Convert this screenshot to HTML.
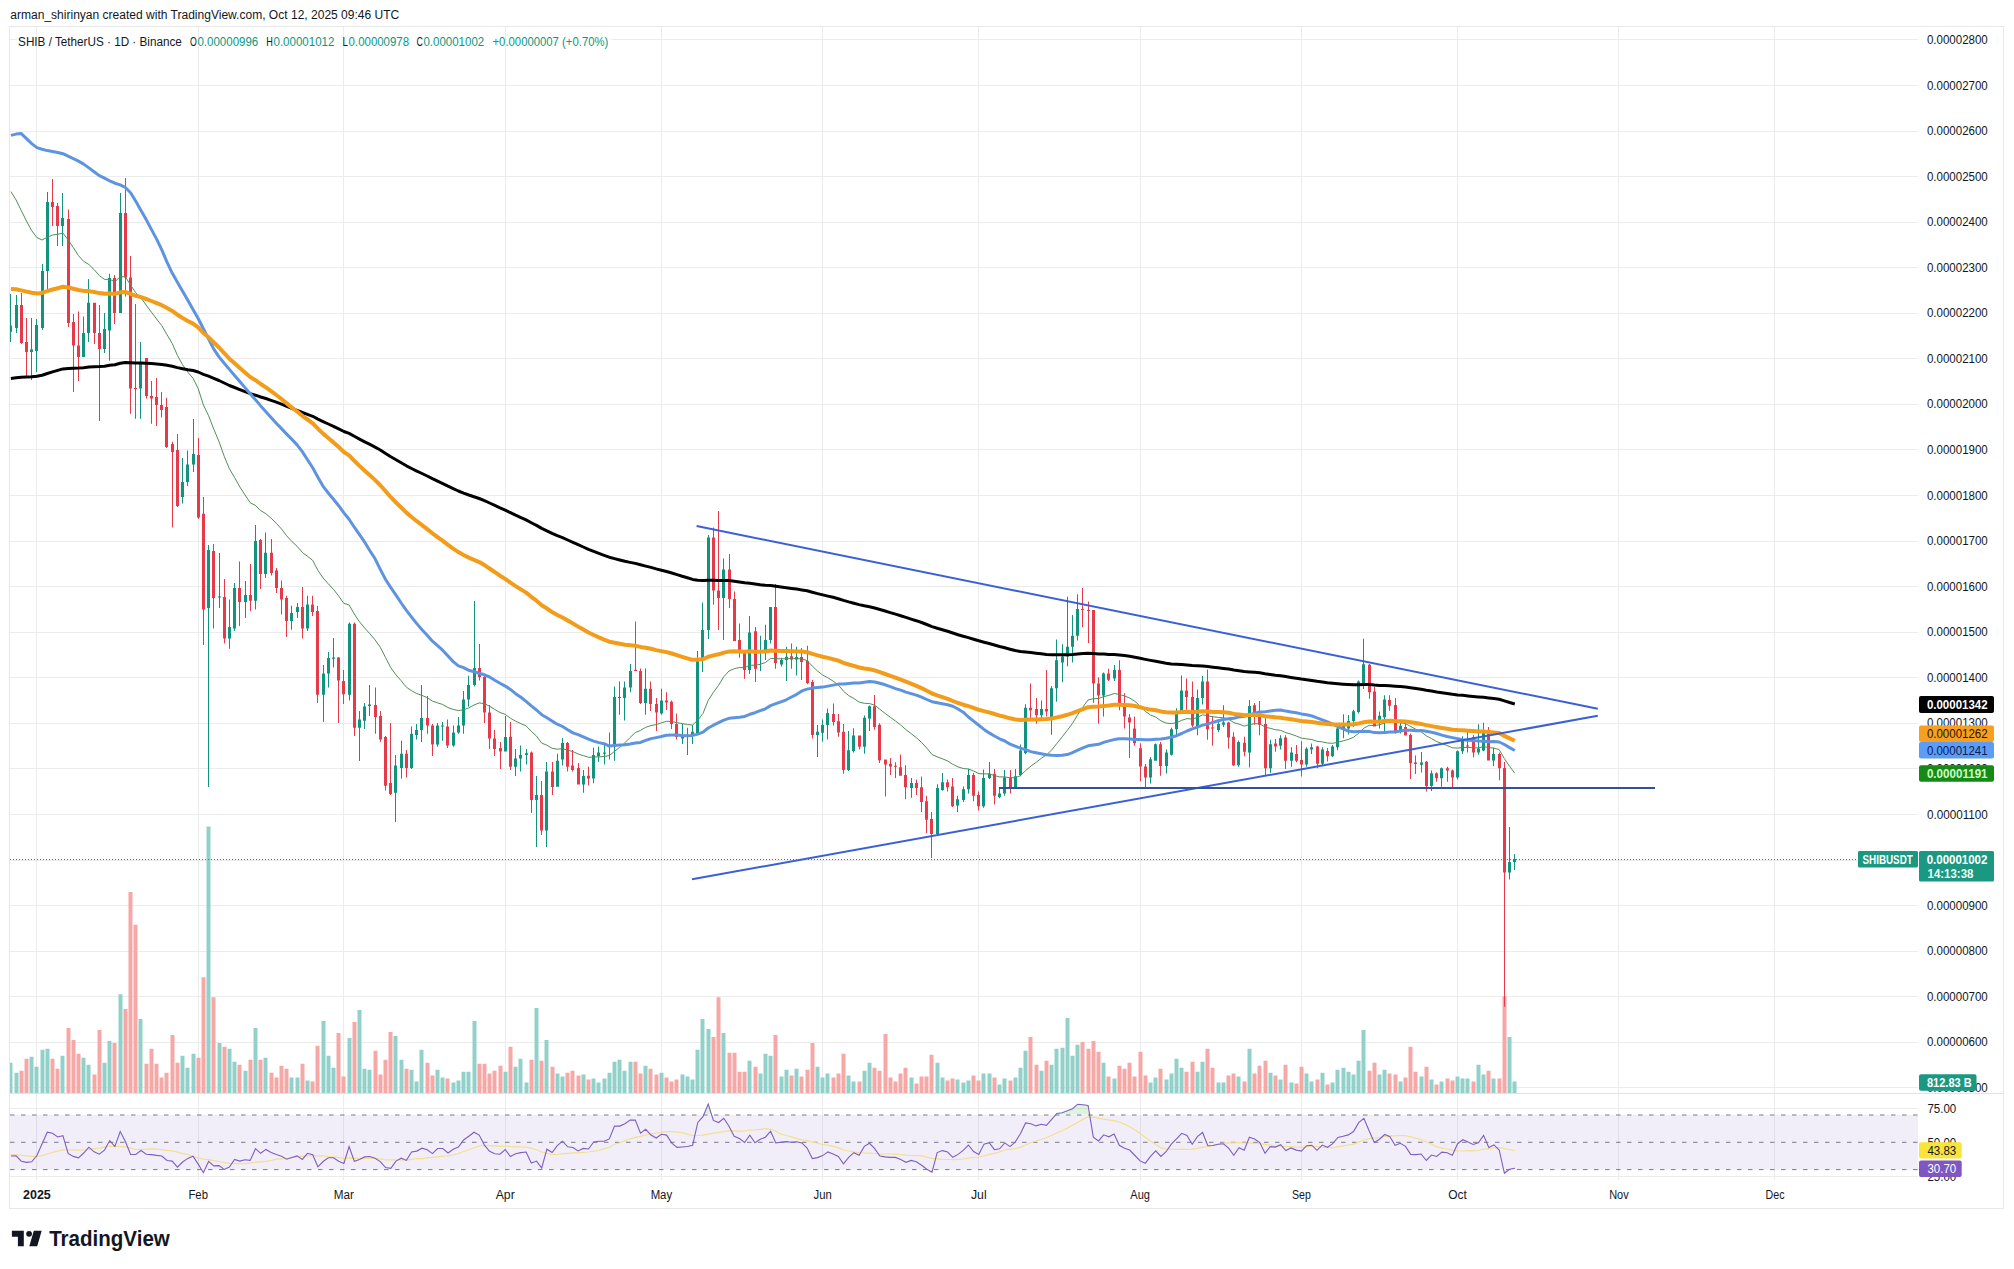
<!DOCTYPE html>
<html><head><meta charset="utf-8"><style>
html,body{margin:0;padding:0;background:#fff;}
body{width:2014px;height:1269px;overflow:hidden;position:relative;font-family:"Liberation Sans",sans-serif;}
svg{position:absolute;left:0;top:0;}
text{font-family:"Liberation Sans",sans-serif;}
</style></head><body>
<svg width="2014" height="1269" viewBox="0 0 2014 1269">
<rect width="2014" height="1269" fill="#ffffff"/>
<defs><clipPath id="cp"><rect x="10" y="27" width="1908" height="1066"/></clipPath><clipPath id="cr"><rect x="10" y="1094" width="1908" height="86"/></clipPath></defs>

<text x="10.3" y="19" font-size="12.5" fill="#131722" textLength="389" lengthAdjust="spacingAndGlyphs">arman_shirinyan created with TradingView.com, Oct 12, 2025 09:46 UTC</text>
<rect x="9.5" y="26.5" width="1994" height="1182" fill="none" stroke="#e8e8e8" stroke-width="1"/>
<path d="M10,1087.5 H1918 M10,1042.5 H1918 M10,996.5 H1918 M10,951.5 H1918 M10,905.5 H1918 M10,860.5 H1918 M10,814.5 H1918 M10,768.5 H1918 M10,723.5 H1918 M10,677.5 H1918 M10,632.5 H1918 M10,586.5 H1918 M10,541.5 H1918 M10,495.5 H1918 M10,449.5 H1918 M10,404.5 H1918 M10,358.5 H1918 M10,313.5 H1918 M10,267.5 H1918 M10,222.5 H1918 M10,176.5 H1918 M10,131.5 H1918 M10,85.5 H1918 M10,39.5 H17 M611,39.5 H1918 M36.5,27 V1180 M198.5,27 V1180 M343.5,27 V1180 M505.5,27 V1180 M661.5,27 V1180 M822.5,27 V1180 M978.5,27 V1180 M1140.5,27 V1180 M1301.5,27 V1180 M1457.5,27 V1180 M1618.5,27 V1180 M1774.5,27 V1180 M10,1108.5 H1918 M10,1176.5 H1918" stroke="#ececec" stroke-width="1" fill="none"/>
<path d="M10,1093.5 H2004" stroke="#e3e3e3" stroke-width="1"/>
<rect x="10" y="1115.0" width="1908" height="54.7" fill="#7e57c2" fill-opacity="0.1"/>
<path d="M10,1115.0 H1918 M10,1142.3 H1918 M10,1169.6 H1918" stroke="#787b86" stroke-width="1" stroke-dasharray="4.5,6.5" fill="none"/>
<g clip-path="url(#cp)">
<path d="M8.5,1093 V1062.7 H12.5 V1093 Z M14.5,1093 V1072.7 H18.5 V1093 Z M29.5,1093 V1056.8 H33.5 V1093 Z M34.5,1093 V1066.7 H38.5 V1093 Z M40.5,1093 V1049.8 H44.5 V1093 Z M45.5,1093 V1048.8 H49.5 V1093 Z M60.5,1093 V1055.8 H64.5 V1093 Z M81.5,1093 V1057.8 H85.5 V1093 Z M86.5,1093 V1064.7 H90.5 V1093 Z M102.5,1093 V1062.7 H106.5 V1093 Z M107.5,1093 V1040.9 H111.5 V1093 Z M118.5,1093 V994.2 H122.5 V1093 Z M138.5,1093 V1019.0 H142.5 V1093 Z M180.5,1093 V1055.8 H184.5 V1093 Z M185.5,1093 V1067.7 H189.5 V1093 Z M191.5,1093 V1053.8 H195.5 V1093 Z M206.5,1093 V826.4 H210.5 V1093 Z M217.5,1093 V1042.9 H221.5 V1093 Z M227.5,1093 V1048.8 H231.5 V1093 Z M232.5,1093 V1061.7 H236.5 V1093 Z M243.5,1093 V1070.7 H247.5 V1093 Z M253.5,1093 V1028.0 H257.5 V1093 Z M263.5,1093 V1057.8 H267.5 V1093 Z M289.5,1093 V1077.6 H293.5 V1093 Z M295.5,1093 V1077.6 H299.5 V1093 Z M305.5,1093 V1080.6 H309.5 V1093 Z M321.5,1093 V1021.0 H325.5 V1093 Z M326.5,1093 V1055.8 H330.5 V1093 Z M331.5,1093 V1067.7 H335.5 V1093 Z M347.5,1093 V1037.9 H351.5 V1093 Z M357.5,1093 V1010.1 H361.5 V1093 Z M362.5,1093 V1068.7 H366.5 V1093 Z M367.5,1093 V1069.7 H371.5 V1093 Z M393.5,1093 V1035.9 H397.5 V1093 Z M399.5,1093 V1059.7 H403.5 V1093 Z M409.5,1093 V1069.7 H413.5 V1093 Z M414.5,1093 V1081.6 H418.5 V1093 Z M419.5,1093 V1049.8 H423.5 V1093 Z M435.5,1093 V1069.7 H439.5 V1093 Z M440.5,1093 V1077.6 H444.5 V1093 Z M451.5,1093 V1082.6 H455.5 V1093 Z M456.5,1093 V1080.6 H460.5 V1093 Z M461.5,1093 V1071.7 H465.5 V1093 Z M466.5,1093 V1071.7 H470.5 V1093 Z M472.5,1093 V1021.0 H476.5 V1093 Z M503.5,1093 V1071.7 H507.5 V1093 Z M513.5,1093 V1066.7 H517.5 V1093 Z M518.5,1093 V1058.7 H522.5 V1093 Z M524.5,1093 V1082.6 H528.5 V1093 Z M534.5,1093 V1008.1 H538.5 V1093 Z M544.5,1093 V1039.9 H548.5 V1093 Z M555.5,1093 V1073.6 H559.5 V1093 Z M560.5,1093 V1076.6 H564.5 V1093 Z M581.5,1093 V1074.6 H585.5 V1093 Z M591.5,1093 V1078.6 H595.5 V1093 Z M596.5,1093 V1082.6 H600.5 V1093 Z M602.5,1093 V1078.6 H606.5 V1093 Z M607.5,1093 V1072.7 H611.5 V1093 Z M612.5,1093 V1061.7 H616.5 V1093 Z M617.5,1093 V1059.7 H621.5 V1093 Z M622.5,1093 V1070.7 H626.5 V1093 Z M628.5,1093 V1061.7 H632.5 V1093 Z M643.5,1093 V1065.7 H647.5 V1093 Z M659.5,1093 V1072.7 H663.5 V1093 Z M680.5,1093 V1074.6 H684.5 V1093 Z M685.5,1093 V1076.6 H689.5 V1093 Z M690.5,1093 V1079.6 H694.5 V1093 Z M695.5,1093 V1049.8 H699.5 V1093 Z M700.5,1093 V1019.0 H704.5 V1093 Z M706.5,1093 V1029.0 H710.5 V1093 Z M721.5,1093 V1032.9 H725.5 V1093 Z M747.5,1093 V1060.7 H751.5 V1093 Z M758.5,1093 V1073.6 H762.5 V1093 Z M763.5,1093 V1053.8 H767.5 V1093 Z M768.5,1093 V1055.8 H772.5 V1093 Z M779.5,1093 V1076.6 H783.5 V1093 Z M784.5,1093 V1069.7 H788.5 V1093 Z M794.5,1093 V1068.7 H798.5 V1093 Z M815.5,1093 V1066.7 H819.5 V1093 Z M820.5,1093 V1077.6 H824.5 V1093 Z M825.5,1093 V1073.6 H829.5 V1093 Z M846.5,1093 V1075.6 H850.5 V1093 Z M851.5,1093 V1081.6 H855.5 V1093 Z M862.5,1093 V1070.7 H866.5 V1093 Z M867.5,1093 V1062.7 H871.5 V1093 Z M909.5,1093 V1077.6 H913.5 V1093 Z M935.5,1093 V1062.7 H939.5 V1093 Z M940.5,1093 V1077.6 H944.5 V1093 Z M955.5,1093 V1079.6 H959.5 V1093 Z M961.5,1093 V1082.6 H965.5 V1093 Z M966.5,1093 V1080.6 H970.5 V1093 Z M981.5,1093 V1073.6 H985.5 V1093 Z M987.5,1093 V1073.6 H991.5 V1093 Z M997.5,1093 V1084.6 H1001.5 V1093 Z M1002.5,1093 V1078.6 H1006.5 V1093 Z M1013.5,1093 V1077.6 H1017.5 V1093 Z M1018.5,1093 V1067.7 H1022.5 V1093 Z M1023.5,1093 V1050.8 H1027.5 V1093 Z M1039.5,1093 V1070.7 H1043.5 V1093 Z M1049.5,1093 V1064.7 H1053.5 V1093 Z M1054.5,1093 V1048.8 H1058.5 V1093 Z M1060.5,1093 V1047.8 H1064.5 V1093 Z M1065.5,1093 V1018.0 H1069.5 V1093 Z M1070.5,1093 V1055.8 H1074.5 V1093 Z M1075.5,1093 V1044.8 H1079.5 V1093 Z M1101.5,1093 V1062.7 H1105.5 V1093 Z M1112.5,1093 V1078.6 H1116.5 V1093 Z M1148.5,1093 V1082.6 H1152.5 V1093 Z M1153.5,1093 V1077.6 H1157.5 V1093 Z M1164.5,1093 V1079.6 H1168.5 V1093 Z M1169.5,1093 V1073.6 H1173.5 V1093 Z M1174.5,1093 V1058.7 H1178.5 V1093 Z M1179.5,1093 V1067.7 H1183.5 V1093 Z M1195.5,1093 V1071.7 H1199.5 V1093 Z M1200.5,1093 V1061.7 H1204.5 V1093 Z M1216.5,1093 V1082.6 H1220.5 V1093 Z M1221.5,1093 V1082.6 H1225.5 V1093 Z M1236.5,1093 V1076.6 H1240.5 V1093 Z M1247.5,1093 V1048.8 H1251.5 V1093 Z M1268.5,1093 V1072.7 H1272.5 V1093 Z M1278.5,1093 V1079.6 H1282.5 V1093 Z M1289.5,1093 V1082.6 H1293.5 V1093 Z M1304.5,1093 V1073.6 H1308.5 V1093 Z M1309.5,1093 V1081.6 H1313.5 V1093 Z M1320.5,1093 V1072.7 H1324.5 V1093 Z M1330.5,1093 V1082.6 H1334.5 V1093 Z M1335.5,1093 V1069.7 H1339.5 V1093 Z M1341.5,1093 V1067.7 H1345.5 V1093 Z M1346.5,1093 V1071.7 H1350.5 V1093 Z M1351.5,1093 V1074.6 H1355.5 V1093 Z M1356.5,1093 V1060.7 H1360.5 V1093 Z M1361.5,1093 V1030.0 H1365.5 V1093 Z M1377.5,1093 V1074.6 H1381.5 V1093 Z M1382.5,1093 V1069.7 H1386.5 V1093 Z M1398.5,1093 V1081.6 H1402.5 V1093 Z M1419.5,1093 V1076.6 H1423.5 V1093 Z M1429.5,1093 V1079.6 H1433.5 V1093 Z M1439.5,1093 V1081.6 H1443.5 V1093 Z M1455.5,1093 V1076.6 H1459.5 V1093 Z M1460.5,1093 V1078.6 H1464.5 V1093 Z M1465.5,1093 V1078.6 H1469.5 V1093 Z M1476.5,1093 V1064.7 H1480.5 V1093 Z M1481.5,1093 V1074.6 H1485.5 V1093 Z M1491.5,1093 V1078.6 H1495.5 V1093 Z M1507.5,1093 V1036.9 H1511.5 V1093 Z M1512.5,1093 V1081.6 H1516.5 V1093 Z" fill="#92d1ca"/>
<path d="M19.5,1093 V1070.7 H23.5 V1093 Z M24.5,1093 V1058.7 H28.5 V1093 Z M50.5,1093 V1058.7 H54.5 V1093 Z M55.5,1093 V1068.7 H59.5 V1093 Z M66.5,1093 V1028.0 H70.5 V1093 Z M71.5,1093 V1039.9 H75.5 V1093 Z M76.5,1093 V1053.8 H80.5 V1093 Z M92.5,1093 V1074.6 H96.5 V1093 Z M97.5,1093 V1030.0 H101.5 V1093 Z M112.5,1093 V1042.9 H116.5 V1093 Z M123.5,1093 V1009.1 H127.5 V1093 Z M128.5,1093 V891.9 H132.5 V1093 Z M133.5,1093 V924.7 H137.5 V1093 Z M144.5,1093 V1063.7 H148.5 V1093 Z M149.5,1093 V1048.8 H153.5 V1093 Z M154.5,1093 V1063.7 H158.5 V1093 Z M159.5,1093 V1077.6 H163.5 V1093 Z M164.5,1093 V1072.7 H168.5 V1093 Z M170.5,1093 V1034.9 H174.5 V1093 Z M175.5,1093 V1062.7 H179.5 V1093 Z M196.5,1093 V1057.8 H200.5 V1093 Z M201.5,1093 V977.3 H205.5 V1093 Z M211.5,1093 V997.2 H215.5 V1093 Z M222.5,1093 V1046.8 H226.5 V1093 Z M237.5,1093 V1064.7 H241.5 V1093 Z M248.5,1093 V1059.7 H252.5 V1093 Z M258.5,1093 V1059.7 H262.5 V1093 Z M269.5,1093 V1072.7 H273.5 V1093 Z M274.5,1093 V1077.6 H278.5 V1093 Z M279.5,1093 V1065.7 H283.5 V1093 Z M284.5,1093 V1068.7 H288.5 V1093 Z M300.5,1093 V1063.7 H304.5 V1093 Z M310.5,1093 V1081.6 H314.5 V1093 Z M315.5,1093 V1045.8 H319.5 V1093 Z M336.5,1093 V1032.9 H340.5 V1093 Z M341.5,1093 V1076.6 H345.5 V1093 Z M352.5,1093 V1022.0 H356.5 V1093 Z M373.5,1093 V1050.8 H377.5 V1093 Z M378.5,1093 V1074.6 H382.5 V1093 Z M383.5,1093 V1059.7 H387.5 V1093 Z M388.5,1093 V1031.9 H392.5 V1093 Z M404.5,1093 V1068.7 H408.5 V1093 Z M425.5,1093 V1062.7 H429.5 V1093 Z M430.5,1093 V1075.6 H434.5 V1093 Z M445.5,1093 V1078.6 H449.5 V1093 Z M477.5,1093 V1063.7 H481.5 V1093 Z M482.5,1093 V1063.7 H486.5 V1093 Z M487.5,1093 V1073.6 H491.5 V1093 Z M492.5,1093 V1070.7 H496.5 V1093 Z M498.5,1093 V1065.7 H502.5 V1093 Z M508.5,1093 V1046.8 H512.5 V1093 Z M529.5,1093 V1059.7 H533.5 V1093 Z M539.5,1093 V1060.7 H543.5 V1093 Z M550.5,1093 V1066.7 H554.5 V1093 Z M565.5,1093 V1072.7 H569.5 V1093 Z M570.5,1093 V1070.7 H574.5 V1093 Z M576.5,1093 V1075.6 H580.5 V1093 Z M586.5,1093 V1079.6 H590.5 V1093 Z M633.5,1093 V1061.7 H637.5 V1093 Z M638.5,1093 V1073.6 H642.5 V1093 Z M648.5,1093 V1068.7 H652.5 V1093 Z M654.5,1093 V1074.6 H658.5 V1093 Z M664.5,1093 V1077.6 H668.5 V1093 Z M669.5,1093 V1081.6 H673.5 V1093 Z M674.5,1093 V1079.6 H678.5 V1093 Z M711.5,1093 V1036.9 H715.5 V1093 Z M716.5,1093 V997.2 H720.5 V1093 Z M727.5,1093 V1052.8 H731.5 V1093 Z M732.5,1093 V1052.8 H736.5 V1093 Z M737.5,1093 V1071.7 H741.5 V1093 Z M742.5,1093 V1071.7 H746.5 V1093 Z M753.5,1093 V1066.7 H757.5 V1093 Z M773.5,1093 V1034.9 H777.5 V1093 Z M789.5,1093 V1075.6 H793.5 V1093 Z M799.5,1093 V1076.6 H803.5 V1093 Z M805.5,1093 V1069.7 H809.5 V1093 Z M810.5,1093 V1042.9 H814.5 V1093 Z M831.5,1093 V1077.6 H835.5 V1093 Z M836.5,1093 V1073.6 H840.5 V1093 Z M841.5,1093 V1053.8 H845.5 V1093 Z M857.5,1093 V1081.6 H861.5 V1093 Z M872.5,1093 V1067.7 H876.5 V1093 Z M877.5,1093 V1070.7 H881.5 V1093 Z M883.5,1093 V1033.9 H887.5 V1093 Z M888.5,1093 V1077.6 H892.5 V1093 Z M893.5,1093 V1081.6 H897.5 V1093 Z M898.5,1093 V1073.6 H902.5 V1093 Z M903.5,1093 V1067.7 H907.5 V1093 Z M914.5,1093 V1083.6 H918.5 V1093 Z M919.5,1093 V1076.6 H923.5 V1093 Z M924.5,1093 V1076.6 H928.5 V1093 Z M929.5,1093 V1054.8 H933.5 V1093 Z M945.5,1093 V1080.6 H949.5 V1093 Z M950.5,1093 V1078.6 H954.5 V1093 Z M971.5,1093 V1075.6 H975.5 V1093 Z M976.5,1093 V1080.6 H980.5 V1093 Z M992.5,1093 V1077.6 H996.5 V1093 Z M1008.5,1093 V1080.6 H1012.5 V1093 Z M1028.5,1093 V1036.9 H1032.5 V1093 Z M1034.5,1093 V1064.7 H1038.5 V1093 Z M1044.5,1093 V1060.7 H1048.5 V1093 Z M1080.5,1093 V1041.9 H1084.5 V1093 Z M1086.5,1093 V1048.8 H1090.5 V1093 Z M1091.5,1093 V1040.9 H1095.5 V1093 Z M1096.5,1093 V1051.8 H1100.5 V1093 Z M1106.5,1093 V1076.6 H1110.5 V1093 Z M1117.5,1093 V1065.7 H1121.5 V1093 Z M1122.5,1093 V1068.7 H1126.5 V1093 Z M1127.5,1093 V1062.7 H1131.5 V1093 Z M1132.5,1093 V1076.6 H1136.5 V1093 Z M1138.5,1093 V1051.8 H1142.5 V1093 Z M1143.5,1093 V1075.6 H1147.5 V1093 Z M1158.5,1093 V1068.7 H1162.5 V1093 Z M1184.5,1093 V1071.7 H1188.5 V1093 Z M1190.5,1093 V1061.7 H1194.5 V1093 Z M1205.5,1093 V1048.8 H1209.5 V1093 Z M1210.5,1093 V1067.7 H1214.5 V1093 Z M1226.5,1093 V1075.6 H1230.5 V1093 Z M1231.5,1093 V1073.6 H1235.5 V1093 Z M1242.5,1093 V1081.6 H1246.5 V1093 Z M1252.5,1093 V1073.6 H1256.5 V1093 Z M1257.5,1093 V1065.7 H1261.5 V1093 Z M1263.5,1093 V1060.7 H1267.5 V1093 Z M1273.5,1093 V1075.6 H1277.5 V1093 Z M1283.5,1093 V1064.7 H1287.5 V1093 Z M1294.5,1093 V1083.6 H1298.5 V1093 Z M1299.5,1093 V1066.7 H1303.5 V1093 Z M1315.5,1093 V1079.6 H1319.5 V1093 Z M1325.5,1093 V1084.6 H1329.5 V1093 Z M1367.5,1093 V1070.7 H1371.5 V1093 Z M1372.5,1093 V1062.7 H1376.5 V1093 Z M1387.5,1093 V1073.6 H1391.5 V1093 Z M1393.5,1093 V1074.6 H1397.5 V1093 Z M1403.5,1093 V1077.6 H1407.5 V1093 Z M1408.5,1093 V1046.8 H1412.5 V1093 Z M1413.5,1093 V1071.7 H1417.5 V1093 Z M1424.5,1093 V1066.7 H1428.5 V1093 Z M1434.5,1093 V1084.6 H1438.5 V1093 Z M1445.5,1093 V1078.6 H1449.5 V1093 Z M1450.5,1093 V1080.6 H1454.5 V1093 Z M1471.5,1093 V1081.6 H1475.5 V1093 Z M1486.5,1093 V1070.7 H1490.5 V1093 Z M1497.5,1093 V1078.6 H1501.5 V1093 Z M1502.5,1093 V996.2 H1506.5 V1093 Z" fill="#f5a8a6"/>
</g><g clip-path="url(#cr)">
<defs><clipPath id="ob"><rect x="10" y="1094" width="1908" height="20.4"/></clipPath><clipPath id="os"><rect x="10" y="1170.2" width="1908" height="10.4"/></clipPath></defs>
<path d="M10.9,1156.0 L16.1,1155.8 L21.3,1161.2 L26.5,1162.4 L31.7,1161.8 L36.9,1155.5 L42.1,1143.7 L47.3,1132.2 L52.5,1133.2 L57.7,1137.0 L62.9,1135.6 L68.1,1153.5 L73.3,1156.4 L78.5,1157.9 L83.7,1153.0 L88.9,1147.2 L94.1,1151.8 L99.3,1154.2 L104.5,1150.1 L109.7,1140.6 L114.9,1146.5 L120.2,1131.6 L125.4,1141.5 L130.6,1154.5 L135.8,1154.5 L141.0,1150.5 L146.2,1154.3 L151.4,1154.6 L156.6,1155.4 L161.8,1156.0 L167.0,1160.5 L172.2,1161.1 L177.4,1167.2 L182.6,1162.0 L187.8,1158.4 L193.0,1156.2 L198.2,1164.1 L203.4,1172.7 L208.6,1161.4 L213.8,1165.9 L219.0,1165.6 L224.2,1169.4 L229.4,1167.1 L234.6,1159.5 L239.8,1161.1 L245.0,1159.7 L250.2,1160.4 L255.5,1148.7 L260.7,1153.3 L265.9,1149.4 L271.1,1152.4 L276.3,1154.5 L281.5,1156.2 L286.7,1159.2 L291.9,1157.4 L297.1,1155.9 L302.3,1159.4 L307.5,1153.3 L312.7,1154.7 L317.9,1166.8 L323.1,1161.5 L328.3,1157.8 L333.5,1157.7 L338.7,1161.3 L343.9,1163.4 L349.1,1146.6 L354.3,1161.3 L359.5,1159.6 L364.7,1156.9 L369.9,1156.5 L375.1,1158.3 L380.3,1161.6 L385.6,1167.5 L390.8,1168.4 L396.0,1161.1 L401.2,1158.2 L406.4,1160.4 L411.6,1152.0 L416.8,1151.1 L422.0,1148.2 L427.2,1149.7 L432.4,1153.6 L437.6,1148.5 L442.8,1148.5 L448.0,1153.0 L453.2,1149.2 L458.4,1147.1 L463.6,1140.0 L468.8,1136.3 L474.0,1132.2 L479.2,1135.1 L484.4,1145.1 L489.6,1151.3 L494.8,1153.7 L500.0,1154.2 L505.2,1149.5 L510.4,1156.6 L515.6,1153.8 L520.9,1152.6 L526.1,1152.0 L531.3,1163.0 L536.5,1161.1 L541.7,1168.0 L546.9,1149.2 L552.1,1152.5 L557.3,1145.6 L562.5,1141.2 L567.7,1146.8 L572.9,1147.5 L578.1,1150.9 L583.3,1148.4 L588.5,1149.0 L593.7,1142.0 L598.9,1141.3 L604.1,1141.3 L609.3,1138.9 L614.5,1126.1 L619.7,1126.1 L624.9,1123.8 L630.1,1120.1 L635.3,1120.1 L640.5,1133.1 L645.7,1129.3 L651.0,1135.0 L656.2,1138.0 L661.4,1134.3 L666.6,1135.1 L671.8,1143.1 L677.0,1147.4 L682.2,1147.0 L687.4,1146.5 L692.6,1145.2 L697.8,1122.4 L703.0,1116.6 L708.2,1104.1 L713.4,1120.4 L718.6,1122.5 L723.8,1118.3 L729.0,1126.3 L734.2,1136.3 L739.4,1138.6 L744.6,1142.5 L749.8,1135.1 L755.0,1142.7 L760.2,1139.3 L765.4,1137.2 L770.6,1131.2 L775.8,1142.9 L781.0,1142.3 L786.3,1141.6 L791.5,1142.2 L796.7,1141.7 L801.9,1142.9 L807.1,1148.1 L812.3,1158.6 L817.5,1157.6 L822.7,1155.6 L827.9,1151.9 L833.1,1154.0 L838.3,1156.4 L843.5,1163.9 L848.7,1157.3 L853.9,1152.7 L859.1,1155.2 L864.3,1146.4 L869.5,1143.3 L874.7,1148.6 L879.9,1156.0 L885.1,1156.9 L890.3,1157.4 L895.5,1157.4 L900.7,1159.6 L905.9,1162.3 L911.1,1160.4 L916.3,1161.7 L921.6,1165.2 L926.8,1169.3 L932.0,1172.2 L937.2,1152.6 L942.4,1150.6 L947.6,1152.0 L952.8,1157.3 L958.0,1154.4 L963.2,1150.4 L968.4,1145.0 L973.6,1151.6 L978.8,1154.6 L984.0,1144.1 L989.2,1142.7 L994.4,1149.7 L999.6,1148.8 L1004.8,1142.9 L1010.0,1146.6 L1015.2,1142.1 L1020.4,1133.7 L1025.6,1122.9 L1030.8,1123.8 L1036.0,1125.9 L1041.2,1124.3 L1046.4,1125.4 L1051.7,1119.4 L1056.9,1113.4 L1062.1,1112.7 L1067.3,1110.8 L1072.5,1108.7 L1077.7,1104.2 L1082.9,1104.8 L1088.1,1105.4 L1093.3,1137.1 L1098.5,1140.9 L1103.7,1134.8 L1108.9,1136.8 L1114.1,1134.1 L1119.3,1145.3 L1124.5,1148.3 L1129.7,1150.0 L1134.9,1155.5 L1140.1,1160.9 L1145.3,1163.3 L1150.5,1156.3 L1155.7,1150.9 L1160.9,1156.4 L1166.1,1151.7 L1171.3,1144.1 L1176.5,1138.9 L1181.7,1133.3 L1187.0,1135.5 L1192.2,1144.3 L1197.4,1136.6 L1202.6,1132.5 L1207.8,1145.8 L1213.0,1145.5 L1218.2,1144.2 L1223.4,1143.8 L1228.6,1148.1 L1233.8,1155.3 L1239.0,1147.7 L1244.2,1150.2 L1249.4,1137.3 L1254.6,1139.0 L1259.8,1142.6 L1265.0,1153.3 L1270.2,1146.6 L1275.4,1147.1 L1280.6,1144.7 L1285.8,1150.5 L1291.0,1147.9 L1296.2,1150.1 L1301.4,1151.1 L1306.6,1145.7 L1311.8,1145.2 L1317.0,1150.3 L1322.3,1145.1 L1327.5,1147.3 L1332.7,1143.7 L1337.9,1137.4 L1343.1,1136.3 L1348.3,1134.9 L1353.5,1131.5 L1358.7,1122.7 L1363.9,1118.4 L1369.1,1130.7 L1374.3,1142.5 L1379.5,1139.2 L1384.7,1134.5 L1389.9,1136.8 L1395.1,1145.3 L1400.3,1143.3 L1405.5,1146.4 L1410.7,1154.4 L1415.9,1154.6 L1421.1,1154.0 L1426.3,1160.5 L1431.5,1155.0 L1436.7,1156.5 L1441.9,1152.1 L1447.1,1152.8 L1452.4,1155.2 L1457.6,1143.7 L1462.8,1139.7 L1468.0,1142.0 L1473.2,1144.5 L1478.4,1142.7 L1483.6,1135.4 L1488.8,1147.5 L1494.0,1144.9 L1499.2,1150.0 L1504.4,1173.3 L1509.6,1169.3 L1514.8,1168.2 L1514.8,1115.0 L10.9,1115.0 Z" fill="#4caf50" fill-opacity="0.18" clip-path="url(#ob)"/>
<path d="M10.9,1156.0 L16.1,1155.8 L21.3,1161.2 L26.5,1162.4 L31.7,1161.8 L36.9,1155.5 L42.1,1143.7 L47.3,1132.2 L52.5,1133.2 L57.7,1137.0 L62.9,1135.6 L68.1,1153.5 L73.3,1156.4 L78.5,1157.9 L83.7,1153.0 L88.9,1147.2 L94.1,1151.8 L99.3,1154.2 L104.5,1150.1 L109.7,1140.6 L114.9,1146.5 L120.2,1131.6 L125.4,1141.5 L130.6,1154.5 L135.8,1154.5 L141.0,1150.5 L146.2,1154.3 L151.4,1154.6 L156.6,1155.4 L161.8,1156.0 L167.0,1160.5 L172.2,1161.1 L177.4,1167.2 L182.6,1162.0 L187.8,1158.4 L193.0,1156.2 L198.2,1164.1 L203.4,1172.7 L208.6,1161.4 L213.8,1165.9 L219.0,1165.6 L224.2,1169.4 L229.4,1167.1 L234.6,1159.5 L239.8,1161.1 L245.0,1159.7 L250.2,1160.4 L255.5,1148.7 L260.7,1153.3 L265.9,1149.4 L271.1,1152.4 L276.3,1154.5 L281.5,1156.2 L286.7,1159.2 L291.9,1157.4 L297.1,1155.9 L302.3,1159.4 L307.5,1153.3 L312.7,1154.7 L317.9,1166.8 L323.1,1161.5 L328.3,1157.8 L333.5,1157.7 L338.7,1161.3 L343.9,1163.4 L349.1,1146.6 L354.3,1161.3 L359.5,1159.6 L364.7,1156.9 L369.9,1156.5 L375.1,1158.3 L380.3,1161.6 L385.6,1167.5 L390.8,1168.4 L396.0,1161.1 L401.2,1158.2 L406.4,1160.4 L411.6,1152.0 L416.8,1151.1 L422.0,1148.2 L427.2,1149.7 L432.4,1153.6 L437.6,1148.5 L442.8,1148.5 L448.0,1153.0 L453.2,1149.2 L458.4,1147.1 L463.6,1140.0 L468.8,1136.3 L474.0,1132.2 L479.2,1135.1 L484.4,1145.1 L489.6,1151.3 L494.8,1153.7 L500.0,1154.2 L505.2,1149.5 L510.4,1156.6 L515.6,1153.8 L520.9,1152.6 L526.1,1152.0 L531.3,1163.0 L536.5,1161.1 L541.7,1168.0 L546.9,1149.2 L552.1,1152.5 L557.3,1145.6 L562.5,1141.2 L567.7,1146.8 L572.9,1147.5 L578.1,1150.9 L583.3,1148.4 L588.5,1149.0 L593.7,1142.0 L598.9,1141.3 L604.1,1141.3 L609.3,1138.9 L614.5,1126.1 L619.7,1126.1 L624.9,1123.8 L630.1,1120.1 L635.3,1120.1 L640.5,1133.1 L645.7,1129.3 L651.0,1135.0 L656.2,1138.0 L661.4,1134.3 L666.6,1135.1 L671.8,1143.1 L677.0,1147.4 L682.2,1147.0 L687.4,1146.5 L692.6,1145.2 L697.8,1122.4 L703.0,1116.6 L708.2,1104.1 L713.4,1120.4 L718.6,1122.5 L723.8,1118.3 L729.0,1126.3 L734.2,1136.3 L739.4,1138.6 L744.6,1142.5 L749.8,1135.1 L755.0,1142.7 L760.2,1139.3 L765.4,1137.2 L770.6,1131.2 L775.8,1142.9 L781.0,1142.3 L786.3,1141.6 L791.5,1142.2 L796.7,1141.7 L801.9,1142.9 L807.1,1148.1 L812.3,1158.6 L817.5,1157.6 L822.7,1155.6 L827.9,1151.9 L833.1,1154.0 L838.3,1156.4 L843.5,1163.9 L848.7,1157.3 L853.9,1152.7 L859.1,1155.2 L864.3,1146.4 L869.5,1143.3 L874.7,1148.6 L879.9,1156.0 L885.1,1156.9 L890.3,1157.4 L895.5,1157.4 L900.7,1159.6 L905.9,1162.3 L911.1,1160.4 L916.3,1161.7 L921.6,1165.2 L926.8,1169.3 L932.0,1172.2 L937.2,1152.6 L942.4,1150.6 L947.6,1152.0 L952.8,1157.3 L958.0,1154.4 L963.2,1150.4 L968.4,1145.0 L973.6,1151.6 L978.8,1154.6 L984.0,1144.1 L989.2,1142.7 L994.4,1149.7 L999.6,1148.8 L1004.8,1142.9 L1010.0,1146.6 L1015.2,1142.1 L1020.4,1133.7 L1025.6,1122.9 L1030.8,1123.8 L1036.0,1125.9 L1041.2,1124.3 L1046.4,1125.4 L1051.7,1119.4 L1056.9,1113.4 L1062.1,1112.7 L1067.3,1110.8 L1072.5,1108.7 L1077.7,1104.2 L1082.9,1104.8 L1088.1,1105.4 L1093.3,1137.1 L1098.5,1140.9 L1103.7,1134.8 L1108.9,1136.8 L1114.1,1134.1 L1119.3,1145.3 L1124.5,1148.3 L1129.7,1150.0 L1134.9,1155.5 L1140.1,1160.9 L1145.3,1163.3 L1150.5,1156.3 L1155.7,1150.9 L1160.9,1156.4 L1166.1,1151.7 L1171.3,1144.1 L1176.5,1138.9 L1181.7,1133.3 L1187.0,1135.5 L1192.2,1144.3 L1197.4,1136.6 L1202.6,1132.5 L1207.8,1145.8 L1213.0,1145.5 L1218.2,1144.2 L1223.4,1143.8 L1228.6,1148.1 L1233.8,1155.3 L1239.0,1147.7 L1244.2,1150.2 L1249.4,1137.3 L1254.6,1139.0 L1259.8,1142.6 L1265.0,1153.3 L1270.2,1146.6 L1275.4,1147.1 L1280.6,1144.7 L1285.8,1150.5 L1291.0,1147.9 L1296.2,1150.1 L1301.4,1151.1 L1306.6,1145.7 L1311.8,1145.2 L1317.0,1150.3 L1322.3,1145.1 L1327.5,1147.3 L1332.7,1143.7 L1337.9,1137.4 L1343.1,1136.3 L1348.3,1134.9 L1353.5,1131.5 L1358.7,1122.7 L1363.9,1118.4 L1369.1,1130.7 L1374.3,1142.5 L1379.5,1139.2 L1384.7,1134.5 L1389.9,1136.8 L1395.1,1145.3 L1400.3,1143.3 L1405.5,1146.4 L1410.7,1154.4 L1415.9,1154.6 L1421.1,1154.0 L1426.3,1160.5 L1431.5,1155.0 L1436.7,1156.5 L1441.9,1152.1 L1447.1,1152.8 L1452.4,1155.2 L1457.6,1143.7 L1462.8,1139.7 L1468.0,1142.0 L1473.2,1144.5 L1478.4,1142.7 L1483.6,1135.4 L1488.8,1147.5 L1494.0,1144.9 L1499.2,1150.0 L1504.4,1173.3 L1509.6,1169.3 L1514.8,1168.2 L1514.8,1169.6 L10.9,1169.6 Z" fill="#f23645" fill-opacity="0.2" clip-path="url(#os)"/>
<path d="M10.9,1154.7 L16.1,1154.8 L21.3,1155.3 L26.5,1155.8 L31.7,1156.3 L36.9,1156.4 L42.1,1155.6 L47.3,1154.0 L52.5,1152.5 L57.7,1151.2 L62.9,1149.9 L68.1,1149.8 L73.3,1149.9 L78.5,1150.2 L83.7,1150.0 L88.9,1149.3 L94.1,1148.7 L99.3,1148.1 L104.5,1147.2 L109.7,1146.2 L114.9,1146.4 L120.2,1146.3 L125.4,1146.9 L130.6,1148.2 L135.8,1149.5 L141.0,1149.3 L146.2,1149.2 L151.4,1148.9 L156.6,1149.1 L161.8,1149.7 L167.0,1150.3 L172.2,1150.8 L177.4,1152.1 L182.6,1153.6 L187.8,1154.4 L193.0,1156.2 L198.2,1157.8 L203.4,1159.1 L208.6,1159.6 L213.8,1160.7 L219.0,1161.5 L224.2,1162.6 L229.4,1163.4 L234.6,1163.7 L239.8,1163.7 L245.0,1163.6 L250.2,1163.1 L255.5,1162.2 L260.7,1161.8 L265.9,1161.3 L271.1,1160.5 L276.3,1159.2 L281.5,1158.8 L286.7,1158.3 L291.9,1157.7 L297.1,1156.8 L302.3,1156.2 L307.5,1155.8 L312.7,1155.3 L317.9,1155.8 L323.1,1155.9 L328.3,1156.5 L333.5,1156.9 L338.7,1157.7 L343.9,1158.5 L349.1,1157.9 L354.3,1158.3 L359.5,1158.3 L364.7,1158.3 L369.9,1158.3 L375.1,1158.3 L380.3,1158.9 L385.6,1159.8 L390.8,1159.9 L396.0,1159.9 L401.2,1159.9 L406.4,1160.1 L411.6,1159.4 L416.8,1158.5 L422.0,1158.7 L427.2,1157.8 L432.4,1157.4 L437.6,1156.8 L442.8,1156.2 L448.0,1155.8 L453.2,1155.0 L458.4,1153.5 L463.6,1151.5 L468.8,1149.7 L474.0,1147.8 L479.2,1146.0 L484.4,1145.5 L489.6,1145.6 L494.8,1145.9 L500.0,1146.3 L505.2,1146.0 L510.4,1146.6 L515.6,1146.9 L520.9,1146.9 L526.1,1147.1 L531.3,1148.2 L536.5,1149.7 L541.7,1152.0 L546.9,1153.2 L552.1,1154.5 L557.3,1154.5 L562.5,1153.8 L567.7,1153.3 L572.9,1152.8 L578.1,1152.9 L583.3,1152.3 L588.5,1152.0 L593.7,1151.2 L598.9,1150.5 L604.1,1148.9 L609.3,1147.3 L614.5,1144.3 L619.7,1142.7 L624.9,1140.6 L630.1,1138.8 L635.3,1137.3 L640.5,1136.3 L645.7,1135.0 L651.0,1133.9 L656.2,1133.1 L661.4,1132.1 L666.6,1131.6 L671.8,1131.7 L677.0,1132.2 L682.2,1132.7 L687.4,1134.2 L692.6,1135.6 L697.8,1135.5 L703.0,1135.2 L708.2,1134.1 L713.4,1133.2 L718.6,1132.7 L723.8,1131.5 L729.0,1130.7 L734.2,1130.8 L739.4,1131.1 L744.6,1131.0 L749.8,1130.1 L755.0,1129.8 L760.2,1129.3 L765.4,1128.7 L770.6,1129.4 L775.8,1131.2 L781.0,1134.0 L786.3,1135.5 L791.5,1136.9 L796.7,1138.6 L801.9,1139.8 L807.1,1140.6 L812.3,1142.0 L817.5,1143.1 L822.7,1144.6 L827.9,1145.2 L833.1,1146.3 L838.3,1147.6 L843.5,1150.0 L848.7,1151.0 L853.9,1151.8 L859.1,1152.7 L864.3,1153.0 L869.5,1153.1 L874.7,1153.5 L879.9,1154.1 L885.1,1154.0 L890.3,1154.0 L895.5,1154.1 L900.7,1154.6 L905.9,1155.2 L911.1,1155.5 L916.3,1155.4 L921.6,1155.9 L926.8,1157.1 L932.0,1158.3 L937.2,1158.8 L942.4,1159.3 L947.6,1159.5 L952.8,1159.6 L958.0,1159.5 L963.2,1159.0 L968.4,1158.1 L973.6,1157.5 L978.8,1157.0 L984.0,1155.8 L989.2,1154.4 L994.4,1153.3 L999.6,1151.9 L1004.8,1149.8 L1010.0,1149.3 L1015.2,1148.7 L1020.4,1147.4 L1025.6,1145.0 L1030.8,1142.8 L1036.0,1141.0 L1041.2,1139.5 L1046.4,1137.7 L1051.7,1135.2 L1056.9,1133.0 L1062.1,1130.8 L1067.3,1128.1 L1072.5,1125.2 L1077.7,1122.4 L1082.9,1119.4 L1088.1,1116.8 L1093.3,1117.1 L1098.5,1118.3 L1103.7,1119.1 L1108.9,1119.9 L1114.1,1120.6 L1119.3,1122.0 L1124.5,1124.1 L1129.7,1126.7 L1134.9,1129.8 L1140.1,1133.4 L1145.3,1137.3 L1150.5,1141.0 L1155.7,1144.3 L1160.9,1147.9 L1166.1,1149.0 L1171.3,1149.2 L1176.5,1149.5 L1181.7,1149.2 L1187.0,1149.3 L1192.2,1149.2 L1197.4,1148.4 L1202.6,1147.2 L1207.8,1146.5 L1213.0,1145.4 L1218.2,1144.0 L1223.4,1143.1 L1228.6,1142.9 L1233.8,1142.8 L1239.0,1142.5 L1244.2,1143.0 L1249.4,1142.9 L1254.6,1143.3 L1259.8,1143.8 L1265.0,1144.4 L1270.2,1145.1 L1275.4,1146.2 L1280.6,1146.1 L1285.8,1146.5 L1291.0,1146.7 L1296.2,1147.2 L1301.4,1147.4 L1306.6,1146.7 L1311.8,1146.5 L1317.0,1146.5 L1322.3,1147.1 L1327.5,1147.7 L1332.7,1147.8 L1337.9,1146.6 L1343.1,1145.9 L1348.3,1145.0 L1353.5,1144.1 L1358.7,1142.1 L1363.9,1140.0 L1369.1,1138.6 L1374.3,1138.0 L1379.5,1137.5 L1384.7,1136.7 L1389.9,1135.8 L1395.1,1135.8 L1400.3,1135.5 L1405.5,1135.7 L1410.7,1136.9 L1415.9,1138.2 L1421.1,1139.6 L1426.3,1141.7 L1431.5,1144.0 L1436.7,1146.7 L1441.9,1148.2 L1447.1,1149.0 L1452.4,1150.1 L1457.6,1150.8 L1462.8,1151.0 L1468.0,1150.7 L1473.2,1150.8 L1478.4,1150.5 L1483.6,1149.2 L1488.8,1148.7 L1494.0,1148.0 L1499.2,1147.3 L1504.4,1148.6 L1509.6,1149.5 L1514.8,1150.7" stroke="#f3df8f" stroke-width="1.2" fill="none"/>
<path d="M10.9,1156.0 L16.1,1155.8 L21.3,1161.2 L26.5,1162.4 L31.7,1161.8 L36.9,1155.5 L42.1,1143.7 L47.3,1132.2 L52.5,1133.2 L57.7,1137.0 L62.9,1135.6 L68.1,1153.5 L73.3,1156.4 L78.5,1157.9 L83.7,1153.0 L88.9,1147.2 L94.1,1151.8 L99.3,1154.2 L104.5,1150.1 L109.7,1140.6 L114.9,1146.5 L120.2,1131.6 L125.4,1141.5 L130.6,1154.5 L135.8,1154.5 L141.0,1150.5 L146.2,1154.3 L151.4,1154.6 L156.6,1155.4 L161.8,1156.0 L167.0,1160.5 L172.2,1161.1 L177.4,1167.2 L182.6,1162.0 L187.8,1158.4 L193.0,1156.2 L198.2,1164.1 L203.4,1172.7 L208.6,1161.4 L213.8,1165.9 L219.0,1165.6 L224.2,1169.4 L229.4,1167.1 L234.6,1159.5 L239.8,1161.1 L245.0,1159.7 L250.2,1160.4 L255.5,1148.7 L260.7,1153.3 L265.9,1149.4 L271.1,1152.4 L276.3,1154.5 L281.5,1156.2 L286.7,1159.2 L291.9,1157.4 L297.1,1155.9 L302.3,1159.4 L307.5,1153.3 L312.7,1154.7 L317.9,1166.8 L323.1,1161.5 L328.3,1157.8 L333.5,1157.7 L338.7,1161.3 L343.9,1163.4 L349.1,1146.6 L354.3,1161.3 L359.5,1159.6 L364.7,1156.9 L369.9,1156.5 L375.1,1158.3 L380.3,1161.6 L385.6,1167.5 L390.8,1168.4 L396.0,1161.1 L401.2,1158.2 L406.4,1160.4 L411.6,1152.0 L416.8,1151.1 L422.0,1148.2 L427.2,1149.7 L432.4,1153.6 L437.6,1148.5 L442.8,1148.5 L448.0,1153.0 L453.2,1149.2 L458.4,1147.1 L463.6,1140.0 L468.8,1136.3 L474.0,1132.2 L479.2,1135.1 L484.4,1145.1 L489.6,1151.3 L494.8,1153.7 L500.0,1154.2 L505.2,1149.5 L510.4,1156.6 L515.6,1153.8 L520.9,1152.6 L526.1,1152.0 L531.3,1163.0 L536.5,1161.1 L541.7,1168.0 L546.9,1149.2 L552.1,1152.5 L557.3,1145.6 L562.5,1141.2 L567.7,1146.8 L572.9,1147.5 L578.1,1150.9 L583.3,1148.4 L588.5,1149.0 L593.7,1142.0 L598.9,1141.3 L604.1,1141.3 L609.3,1138.9 L614.5,1126.1 L619.7,1126.1 L624.9,1123.8 L630.1,1120.1 L635.3,1120.1 L640.5,1133.1 L645.7,1129.3 L651.0,1135.0 L656.2,1138.0 L661.4,1134.3 L666.6,1135.1 L671.8,1143.1 L677.0,1147.4 L682.2,1147.0 L687.4,1146.5 L692.6,1145.2 L697.8,1122.4 L703.0,1116.6 L708.2,1104.1 L713.4,1120.4 L718.6,1122.5 L723.8,1118.3 L729.0,1126.3 L734.2,1136.3 L739.4,1138.6 L744.6,1142.5 L749.8,1135.1 L755.0,1142.7 L760.2,1139.3 L765.4,1137.2 L770.6,1131.2 L775.8,1142.9 L781.0,1142.3 L786.3,1141.6 L791.5,1142.2 L796.7,1141.7 L801.9,1142.9 L807.1,1148.1 L812.3,1158.6 L817.5,1157.6 L822.7,1155.6 L827.9,1151.9 L833.1,1154.0 L838.3,1156.4 L843.5,1163.9 L848.7,1157.3 L853.9,1152.7 L859.1,1155.2 L864.3,1146.4 L869.5,1143.3 L874.7,1148.6 L879.9,1156.0 L885.1,1156.9 L890.3,1157.4 L895.5,1157.4 L900.7,1159.6 L905.9,1162.3 L911.1,1160.4 L916.3,1161.7 L921.6,1165.2 L926.8,1169.3 L932.0,1172.2 L937.2,1152.6 L942.4,1150.6 L947.6,1152.0 L952.8,1157.3 L958.0,1154.4 L963.2,1150.4 L968.4,1145.0 L973.6,1151.6 L978.8,1154.6 L984.0,1144.1 L989.2,1142.7 L994.4,1149.7 L999.6,1148.8 L1004.8,1142.9 L1010.0,1146.6 L1015.2,1142.1 L1020.4,1133.7 L1025.6,1122.9 L1030.8,1123.8 L1036.0,1125.9 L1041.2,1124.3 L1046.4,1125.4 L1051.7,1119.4 L1056.9,1113.4 L1062.1,1112.7 L1067.3,1110.8 L1072.5,1108.7 L1077.7,1104.2 L1082.9,1104.8 L1088.1,1105.4 L1093.3,1137.1 L1098.5,1140.9 L1103.7,1134.8 L1108.9,1136.8 L1114.1,1134.1 L1119.3,1145.3 L1124.5,1148.3 L1129.7,1150.0 L1134.9,1155.5 L1140.1,1160.9 L1145.3,1163.3 L1150.5,1156.3 L1155.7,1150.9 L1160.9,1156.4 L1166.1,1151.7 L1171.3,1144.1 L1176.5,1138.9 L1181.7,1133.3 L1187.0,1135.5 L1192.2,1144.3 L1197.4,1136.6 L1202.6,1132.5 L1207.8,1145.8 L1213.0,1145.5 L1218.2,1144.2 L1223.4,1143.8 L1228.6,1148.1 L1233.8,1155.3 L1239.0,1147.7 L1244.2,1150.2 L1249.4,1137.3 L1254.6,1139.0 L1259.8,1142.6 L1265.0,1153.3 L1270.2,1146.6 L1275.4,1147.1 L1280.6,1144.7 L1285.8,1150.5 L1291.0,1147.9 L1296.2,1150.1 L1301.4,1151.1 L1306.6,1145.7 L1311.8,1145.2 L1317.0,1150.3 L1322.3,1145.1 L1327.5,1147.3 L1332.7,1143.7 L1337.9,1137.4 L1343.1,1136.3 L1348.3,1134.9 L1353.5,1131.5 L1358.7,1122.7 L1363.9,1118.4 L1369.1,1130.7 L1374.3,1142.5 L1379.5,1139.2 L1384.7,1134.5 L1389.9,1136.8 L1395.1,1145.3 L1400.3,1143.3 L1405.5,1146.4 L1410.7,1154.4 L1415.9,1154.6 L1421.1,1154.0 L1426.3,1160.5 L1431.5,1155.0 L1436.7,1156.5 L1441.9,1152.1 L1447.1,1152.8 L1452.4,1155.2 L1457.6,1143.7 L1462.8,1139.7 L1468.0,1142.0 L1473.2,1144.5 L1478.4,1142.7 L1483.6,1135.4 L1488.8,1147.5 L1494.0,1144.9 L1499.2,1150.0 L1504.4,1173.3 L1509.6,1169.3 L1514.8,1168.2" stroke="#7d5fbf" stroke-width="1.1" fill="none"/>
</g><g clip-path="url(#cp)">
<path d="M10.0,294.0 H11.0 V342.0 H10.0 Z M9.0,325.4 H12.0 V331.7 H9.0 Z M16.0,295.0 H17.0 V333.0 H16.0 Z M15.0,305.0 H18.0 V328.0 H15.0 Z M31.0,318.0 H32.0 V380.0 H31.0 Z M30.0,349.4 H33.0 V352.0 H30.0 Z M36.0,319.0 H37.0 V372.0 H36.0 Z M35.0,325.0 H38.0 V351.0 H35.0 Z M42.0,264.0 H43.0 V330.0 H42.0 Z M41.0,271.0 H44.0 V328.0 H41.0 Z M47.0,192.0 H48.0 V289.0 H47.0 Z M46.0,202.0 H49.0 V271.0 H46.0 Z M62.0,193.0 H63.0 V246.0 H62.0 Z M61.0,218.0 H64.0 V226.0 H61.0 Z M83.0,316.6 H84.0 V357.0 H83.0 Z M82.0,333.0 H85.0 V357.0 H82.0 Z M88.0,279.0 H89.0 V342.0 H88.0 Z M87.0,302.8 H90.0 V333.0 H87.0 Z M104.0,313.0 H105.0 V353.0 H104.0 Z M103.0,329.0 H106.0 V349.0 H103.0 Z M109.0,273.8 H110.0 V360.7 H109.0 Z M108.0,278.0 H111.0 V330.5 H108.0 Z M120.0,193.0 H121.0 V313.0 H120.0 Z M119.0,213.0 H122.0 V313.0 H119.0 Z M140.0,342.0 H141.0 V418.7 H140.0 Z M139.0,362.0 H142.0 V388.5 H139.0 Z M182.0,458.0 H183.0 V503.6 H182.0 Z M181.0,482.0 H184.0 V497.0 H181.0 Z M187.0,450.6 H188.0 V486.0 H187.0 Z M186.0,464.5 H189.0 V482.0 H186.0 Z M193.0,419.0 H194.0 V472.0 H193.0 Z M192.0,454.0 H195.0 V464.5 H192.0 Z M208.0,545.0 H209.0 V787.0 H208.0 Z M207.0,550.0 H210.0 V608.0 H207.0 Z M219.0,553.0 H220.0 V608.0 H219.0 Z M218.0,596.5 H221.0 V597.5 H218.0 Z M229.0,599.5 H230.0 V648.7 H229.0 Z M228.0,627.0 H231.0 V638.6 H228.0 Z M234.0,583.0 H235.0 V631.0 H234.0 Z M233.0,588.0 H236.0 V628.5 H233.0 Z M245.0,581.0 H246.0 V618.0 H245.0 Z M244.0,595.0 H247.0 V602.0 H244.0 Z M255.0,525.0 H256.0 V609.6 H255.0 Z M254.0,541.0 H257.0 V600.7 H254.0 Z M265.0,532.6 H266.0 V578.0 H265.0 Z M264.0,552.8 H267.0 V574.0 H264.0 Z M291.0,605.8 H292.0 V629.7 H291.0 Z M290.0,613.0 H293.0 V621.0 H290.0 Z M297.0,603.0 H298.0 V618.0 H297.0 Z M296.0,607.0 H299.0 V612.0 H296.0 Z M307.0,595.7 H308.0 V631.0 H307.0 Z M306.0,604.5 H309.0 V628.5 H306.0 Z M323.0,665.0 H324.0 V722.0 H323.0 Z M322.0,673.4 H325.0 V694.7 H322.0 Z M328.0,652.0 H329.0 V687.6 H328.0 Z M327.0,658.0 H330.0 V673.4 H327.0 Z M333.0,638.0 H334.0 V667.5 H333.0 Z M332.0,657.6 H335.0 V658.8 H332.0 Z M349.0,622.6 H350.0 V700.6 H349.0 Z M348.0,623.8 H351.0 V694.7 H348.0 Z M359.0,711.0 H360.0 V761.0 H359.0 Z M358.0,719.5 H361.0 V727.8 H358.0 Z M364.0,703.0 H365.0 V729.0 H364.0 Z M363.0,706.5 H366.0 V720.7 H363.0 Z M369.0,685.0 H370.0 V716.0 H369.0 Z M368.0,704.6 H371.0 V706.0 H368.0 Z M395.0,755.0 H396.0 V822.0 H395.0 Z M394.0,765.6 H397.0 V792.8 H394.0 Z M401.0,740.8 H402.0 V778.6 H401.0 Z M400.0,753.8 H403.0 V768.0 H400.0 Z M411.0,726.6 H412.0 V769.0 H411.0 Z M410.0,733.7 H413.0 V768.0 H410.0 Z M416.0,724.0 H417.0 V739.6 H416.0 Z M415.0,730.0 H418.0 V735.0 H415.0 Z M421.0,685.0 H422.0 V742.0 H421.0 Z M420.0,718.0 H423.0 V730.0 H420.0 Z M437.0,723.0 H438.0 V746.7 H437.0 Z M436.0,725.4 H439.0 V744.4 H436.0 Z M442.0,722.0 H443.0 V740.8 H442.0 Z M441.0,725.4 H444.0 V726.6 H441.0 Z M453.0,725.4 H454.0 V746.7 H453.0 Z M452.0,732.5 H455.0 V745.5 H452.0 Z M458.0,717.0 H459.0 V733.7 H458.0 Z M457.0,725.4 H460.0 V732.5 H457.0 Z M463.0,691.0 H464.0 V733.7 H463.0 Z M462.0,699.4 H465.0 V725.4 H462.0 Z M468.0,675.8 H469.0 V706.5 H468.0 Z M467.0,685.0 H470.0 V699.4 H467.0 Z M474.0,601.0 H475.0 V686.4 H474.0 Z M473.0,668.0 H476.0 V685.0 H473.0 Z M505.0,716.0 H506.0 V751.4 H505.0 Z M504.0,737.0 H507.0 V751.4 H504.0 Z M515.0,749.0 H516.0 V776.0 H515.0 Z M514.0,758.5 H517.0 V766.8 H514.0 Z M520.0,745.5 H521.0 V771.5 H520.0 Z M519.0,755.0 H522.0 V758.5 H519.0 Z M526.0,749.0 H527.0 V764.4 H526.0 Z M525.0,753.3 H528.0 V755.0 H525.0 Z M536.0,776.0 H537.0 V847.0 H536.0 Z M535.0,795.0 H538.0 V800.0 H535.0 Z M546.0,762.0 H547.0 V847.0 H546.0 Z M545.0,771.5 H548.0 V830.6 H545.0 Z M557.0,753.7 H558.0 V786.8 H557.0 Z M556.0,760.8 H559.0 V786.8 H556.0 Z M562.0,738.0 H563.0 V765.5 H562.0 Z M561.0,743.0 H564.0 V759.6 H561.0 Z M583.0,770.0 H584.0 V792.7 H583.0 Z M582.0,776.0 H585.0 V784.4 H582.0 Z M593.0,747.8 H594.0 V783.3 H593.0 Z M592.0,755.0 H595.0 V778.5 H592.0 Z M598.0,746.6 H599.0 V762.0 H598.0 Z M597.0,752.5 H600.0 V756.0 H597.0 Z M604.0,743.0 H605.0 V764.4 H604.0 Z M603.0,752.5 H606.0 V753.7 H603.0 Z M609.0,732.4 H610.0 V759.6 H609.0 Z M608.0,745.0 H611.0 V746.6 H608.0 Z M614.0,686.4 H615.0 V760.8 H614.0 Z M613.0,697.0 H616.0 V746.6 H613.0 Z M619.0,681.6 H620.0 V714.7 H619.0 Z M618.0,697.0 H621.0 V698.0 H618.0 Z M624.0,681.6 H625.0 V720.6 H624.0 Z M623.0,687.5 H626.0 V698.0 H623.0 Z M630.0,664.0 H631.0 V692.3 H630.0 Z M629.0,671.0 H632.0 V687.5 H629.0 Z M645.0,668.6 H646.0 V714.7 H645.0 Z M644.0,688.7 H647.0 V703.0 H644.0 Z M661.0,688.7 H662.0 V714.7 H661.0 Z M660.0,700.5 H663.0 V713.5 H660.0 Z M682.0,724.0 H683.0 V744.0 H682.0 Z M681.0,736.0 H684.0 V738.4 H681.0 Z M687.0,727.7 H688.0 V755.0 H687.0 Z M686.0,734.8 H689.0 V737.0 H686.0 Z M692.0,725.0 H693.0 V744.0 H692.0 Z M691.0,731.7 H694.0 V735.0 H691.0 Z M697.0,651.0 H698.0 V734.0 H697.0 Z M696.0,659.0 H699.0 V734.0 H696.0 Z M702.0,602.6 H703.0 V672.0 H702.0 Z M701.0,630.0 H704.0 V659.0 H701.0 Z M708.0,535.0 H709.0 V639.0 H708.0 Z M707.0,537.5 H710.0 V630.0 H707.0 Z M723.0,558.5 H724.0 V640.0 H723.0 Z M722.0,569.5 H725.0 V598.0 H722.0 Z M749.0,616.0 H750.0 V674.0 H749.0 Z M748.0,632.4 H751.0 V670.0 H748.0 Z M760.0,635.7 H761.0 V671.0 H760.0 Z M759.0,651.0 H762.0 V652.0 H759.0 Z M765.0,624.7 H766.0 V660.0 H765.0 Z M764.0,640.0 H767.0 V651.0 H764.0 Z M770.0,607.0 H771.0 V643.5 H770.0 Z M769.0,607.0 H772.0 V640.0 H769.0 Z M781.0,657.8 H782.0 V666.6 H781.0 Z M780.0,660.0 H783.0 V664.4 H780.0 Z M786.0,646.8 H787.0 V681.0 H786.0 Z M785.0,656.7 H788.0 V660.0 H785.0 Z M796.0,646.8 H797.0 V675.5 H796.0 Z M795.0,657.0 H798.0 V659.4 H795.0 Z M817.0,725.0 H818.0 V757.0 H817.0 Z M816.0,731.7 H819.0 V735.0 H816.0 Z M822.0,719.6 H823.0 V741.7 H822.0 Z M821.0,725.0 H824.0 V732.8 H821.0 Z M827.0,708.6 H828.0 V739.5 H827.0 Z M826.0,713.0 H829.0 V725.0 H826.0 Z M848.0,731.0 H849.0 V770.9 H848.0 Z M847.0,750.3 H850.0 V770.1 H847.0 Z M853.0,728.3 H854.0 V752.4 H853.0 Z M852.0,735.4 H855.0 V751.0 H852.0 Z M864.0,715.5 H865.0 V753.8 H864.0 Z M863.0,717.7 H866.0 V746.7 H863.0 Z M869.0,705.6 H870.0 V731.0 H869.0 Z M868.0,706.3 H871.0 V718.4 H868.0 Z M911.0,778.0 H912.0 V797.8 H911.0 Z M910.0,782.9 H913.0 V787.9 H910.0 Z M937.0,784.3 H938.0 V834.0 H937.0 Z M936.0,787.9 H939.0 V834.0 H936.0 Z M942.0,773.0 H943.0 V790.7 H942.0 Z M941.0,782.2 H944.0 V790.0 H941.0 Z M957.0,795.7 H958.0 V812.0 H957.0 Z M956.0,799.2 H959.0 V805.6 H956.0 Z M963.0,786.5 H964.0 V802.0 H963.0 Z M962.0,789.3 H965.0 V800.0 H962.0 Z M968.0,768.7 H969.0 V793.5 H968.0 Z M967.0,775.1 H970.0 V789.3 H967.0 Z M983.0,769.4 H984.0 V807.7 H983.0 Z M982.0,778.0 H985.0 V806.3 H982.0 Z M989.0,762.0 H990.0 V779.0 H989.0 Z M988.0,773.8 H991.0 V778.0 H988.0 Z M999.0,787.3 H1000.0 V798.3 H999.0 Z M998.0,793.4 H1001.0 V797.0 H998.0 Z M1004.0,770.0 H1005.0 V795.8 H1004.0 Z M1003.0,777.5 H1006.0 V793.4 H1003.0 Z M1015.0,769.0 H1016.0 V788.5 H1015.0 Z M1014.0,776.3 H1017.0 V787.3 H1014.0 Z M1020.0,744.5 H1021.0 V776.3 H1020.0 Z M1019.0,750.6 H1022.0 V775.0 H1019.0 Z M1025.0,704.2 H1026.0 V754.3 H1025.0 Z M1024.0,707.8 H1027.0 V753.0 H1024.0 Z M1041.0,700.5 H1042.0 V718.8 H1041.0 Z M1040.0,709.0 H1043.0 V715.2 H1040.0 Z M1051.0,685.9 H1052.0 V734.7 H1051.0 Z M1050.0,688.3 H1053.0 V718.8 H1050.0 Z M1056.0,639.4 H1057.0 V701.7 H1056.0 Z M1055.0,660.2 H1058.0 V688.3 H1055.0 Z M1062.0,644.3 H1063.0 V682.2 H1062.0 Z M1061.0,656.5 H1064.0 V662.6 H1061.0 Z M1067.0,596.7 H1068.0 V666.3 H1067.0 Z M1066.0,646.8 H1069.0 V656.5 H1066.0 Z M1072.0,615.0 H1073.0 V662.6 H1072.0 Z M1071.0,635.8 H1074.0 V646.8 H1071.0 Z M1077.0,594.2 H1078.0 V640.6 H1077.0 Z M1076.0,608.9 H1079.0 V635.8 H1076.0 Z M1103.0,672.4 H1104.0 V716.4 H1103.0 Z M1102.0,673.6 H1105.0 V695.6 H1102.0 Z M1114.0,665.0 H1115.0 V681.0 H1114.0 Z M1113.0,670.0 H1116.0 V678.5 H1113.0 Z M1150.0,757.0 H1151.0 V783.6 H1150.0 Z M1149.0,759.2 H1152.0 V777.5 H1149.0 Z M1155.0,743.5 H1156.0 V760.7 H1155.0 Z M1154.0,744.3 H1157.0 V760.7 H1154.0 Z M1166.0,749.5 H1167.0 V773.5 H1166.0 Z M1165.0,752.5 H1168.0 V766.0 H1165.0 Z M1171.0,727.8 H1172.0 V755.5 H1171.0 Z M1170.0,729.3 H1173.0 V754.7 H1170.0 Z M1176.0,708.3 H1177.0 V735.3 H1176.0 Z M1175.0,711.3 H1178.0 V729.3 H1175.0 Z M1181.0,675.4 H1182.0 V713.6 H1181.0 Z M1180.0,690.4 H1183.0 V712.8 H1180.0 Z M1197.0,689.6 H1198.0 V735.3 H1197.0 Z M1196.0,697.9 H1199.0 V726.3 H1196.0 Z M1202.0,676.1 H1203.0 V704.6 H1202.0 Z M1201.0,681.4 H1204.0 V697.9 H1201.0 Z M1218.0,721.8 H1219.0 V732.3 H1218.0 Z M1217.0,724.0 H1220.0 V730.0 H1217.0 Z M1223.0,705.3 H1224.0 V727.0 H1223.0 Z M1222.0,722.6 H1225.0 V724.8 H1222.0 Z M1238.0,740.5 H1239.0 V766.7 H1238.0 Z M1237.0,742.0 H1240.0 V765.2 H1237.0 Z M1249.0,700.1 H1250.0 V767.5 H1249.0 Z M1248.0,706.0 H1251.0 V752.5 H1248.0 Z M1270.0,739.8 H1271.0 V772.7 H1270.0 Z M1269.0,744.3 H1272.0 V768.2 H1269.0 Z M1280.0,735.3 H1281.0 V749.5 H1280.0 Z M1279.0,738.3 H1282.0 V745.8 H1279.0 Z M1291.0,747.3 H1292.0 V766.7 H1291.0 Z M1290.0,752.5 H1293.0 V760.7 H1290.0 Z M1306.0,747.3 H1307.0 V766.7 H1306.0 Z M1305.0,748.8 H1308.0 V764.5 H1305.0 Z M1311.0,743.5 H1312.0 V754.0 H1311.0 Z M1310.0,747.3 H1313.0 V749.5 H1310.0 Z M1322.0,747.3 H1323.0 V765.2 H1322.0 Z M1321.0,749.5 H1324.0 V763.7 H1321.0 Z M1332.0,745.0 H1333.0 V757.0 H1332.0 Z M1331.0,746.5 H1334.0 V756.2 H1331.0 Z M1337.0,724.8 H1338.0 V750.3 H1337.0 Z M1336.0,728.5 H1339.0 V747.3 H1336.0 Z M1343.0,714.3 H1344.0 V738.3 H1343.0 Z M1342.0,725.0 H1345.0 V728.5 H1342.0 Z M1348.0,715.0 H1349.0 V734.5 H1348.0 Z M1347.0,721.0 H1350.0 V728.5 H1347.0 Z M1353.0,709.8 H1354.0 V727.0 H1353.0 Z M1352.0,711.3 H1355.0 V721.0 H1352.0 Z M1358.0,680.6 H1359.0 V713.6 H1358.0 Z M1357.0,681.4 H1360.0 V712.0 H1357.0 Z M1363.0,638.7 H1364.0 V688.9 H1363.0 Z M1362.0,664.2 H1365.0 V683.0 H1362.0 Z M1379.0,711.5 H1380.0 V728.5 H1379.0 Z M1378.0,715.7 H1381.0 V720.7 H1378.0 Z M1384.0,695.2 H1385.0 V731.3 H1384.0 Z M1383.0,699.4 H1386.0 V717.2 H1383.0 Z M1400.0,720.0 H1401.0 V733.5 H1400.0 Z M1399.0,725.7 H1402.0 V732.0 H1399.0 Z M1421.0,752.0 H1422.0 V772.5 H1421.0 Z M1420.0,762.6 H1423.0 V764.7 H1420.0 Z M1431.0,770.4 H1432.0 V791.0 H1431.0 Z M1430.0,773.2 H1433.0 V786.0 H1430.0 Z M1441.0,767.5 H1442.0 V786.7 H1441.0 Z M1440.0,768.2 H1443.0 V778.2 H1440.0 Z M1457.0,750.5 H1458.0 V779.6 H1457.0 Z M1456.0,751.2 H1459.0 V777.4 H1456.0 Z M1462.0,736.3 H1463.0 V754.0 H1462.0 Z M1461.0,740.6 H1464.0 V751.2 H1461.0 Z M1478.0,724.3 H1479.0 V754.8 H1478.0 Z M1477.0,748.4 H1480.0 V752.6 H1477.0 Z M1483.0,722.8 H1484.0 V751.2 H1483.0 Z M1482.0,730.6 H1485.0 V750.5 H1482.0 Z M1493.0,747.7 H1494.0 V766.0 H1493.0 Z M1492.0,754.0 H1495.0 V760.4 H1492.0 Z M1509.0,827.0 H1510.0 V879.5 H1509.0 Z M1508.0,862.0 H1511.0 V872.5 H1508.0 Z M1514.0,854.0 H1515.0 V870.0 H1514.0 Z M1513.0,859.0 H1516.0 V862.0 H1513.0 Z" fill="#11937d"/>
<path d="M21.0,293.0 H22.0 V344.0 H21.0 Z M20.0,305.0 H23.0 V343.0 H20.0 Z M26.0,318.0 H27.0 V378.0 H26.0 Z M25.0,342.0 H28.0 V352.0 H25.0 Z M52.0,179.0 H53.0 V226.0 H52.0 Z M51.0,202.0 H54.0 V207.0 H51.0 Z M57.0,203.0 H58.0 V246.0 H57.0 Z M56.0,206.0 H59.0 V226.0 H56.0 Z M68.0,209.5 H69.0 V327.0 H68.0 Z M67.0,219.0 H70.0 V323.0 H67.0 Z M73.0,314.0 H74.0 V392.0 H73.0 Z M72.0,322.0 H75.0 V345.6 H72.0 Z M78.0,311.6 H79.0 V381.0 H78.0 Z M77.0,345.6 H80.0 V357.0 H77.0 Z M94.0,302.8 H95.0 V344.0 H94.0 Z M93.0,302.8 H96.0 V333.0 H93.0 Z M99.0,305.0 H100.0 V421.0 H99.0 Z M98.0,333.0 H101.0 V349.0 H98.0 Z M114.0,275.0 H115.0 V324.0 H114.0 Z M113.0,278.0 H116.0 V313.0 H113.0 Z M125.0,178.0 H126.0 V296.5 H125.0 Z M124.0,213.0 H127.0 V277.5 H124.0 Z M130.0,256.0 H131.0 V413.7 H130.0 Z M129.0,277.5 H132.0 V388.5 H129.0 Z M135.0,304.0 H136.0 V418.7 H135.0 Z M134.0,388.0 H137.0 V389.0 H134.0 Z M146.0,358.0 H147.0 V398.6 H146.0 Z M145.0,358.0 H148.0 V396.0 H145.0 Z M151.0,381.0 H152.0 V423.7 H151.0 Z M150.0,396.0 H153.0 V398.6 H150.0 Z M156.0,378.0 H157.0 V426.0 H156.0 Z M155.0,397.0 H158.0 V405.0 H155.0 Z M161.0,392.0 H162.0 V417.5 H161.0 Z M160.0,405.0 H163.0 V410.0 H160.0 Z M166.0,397.7 H167.0 V448.0 H166.0 Z M165.0,407.0 H168.0 V446.9 H165.0 Z M172.0,441.8 H173.0 V527.6 H172.0 Z M171.0,444.0 H174.0 V452.0 H171.0 Z M177.0,434.0 H178.0 V507.0 H177.0 Z M176.0,450.0 H179.0 V506.0 H176.0 Z M198.0,438.0 H199.0 V518.7 H198.0 Z M197.0,455.0 H200.0 V517.5 H197.0 Z M203.0,497.0 H204.0 V645.0 H203.0 Z M202.0,513.7 H205.0 V609.6 H202.0 Z M213.0,544.0 H214.0 V628.5 H213.0 Z M212.0,551.0 H215.0 V598.0 H212.0 Z M224.0,579.0 H225.0 V643.6 H224.0 Z M223.0,597.0 H226.0 V638.6 H223.0 Z M239.0,561.6 H240.0 V626.0 H239.0 Z M238.0,588.0 H241.0 V602.0 H238.0 Z M250.0,564.0 H251.0 V611.0 H250.0 Z M249.0,595.0 H252.0 V600.7 H249.0 Z M260.0,539.0 H261.0 V589.0 H260.0 Z M259.0,540.0 H262.0 V574.0 H259.0 Z M271.0,539.0 H272.0 V575.5 H271.0 Z M270.0,552.8 H273.0 V573.0 H270.0 Z M276.0,568.0 H277.0 V593.0 H276.0 Z M275.0,570.5 H278.0 V588.0 H275.0 Z M281.0,580.6 H282.0 V614.6 H281.0 Z M280.0,588.0 H283.0 V599.5 H280.0 Z M286.0,595.7 H287.0 V637.0 H286.0 Z M285.0,598.0 H288.0 V621.0 H285.0 Z M302.0,587.0 H303.0 V638.6 H302.0 Z M301.0,607.0 H304.0 V628.5 H301.0 Z M312.0,595.7 H313.0 V616.0 H312.0 Z M311.0,604.5 H314.0 V612.0 H311.0 Z M317.0,606.0 H318.0 V703.0 H317.0 Z M316.0,611.0 H319.0 V694.7 H316.0 Z M338.0,657.0 H339.0 V723.0 H338.0 Z M337.0,657.6 H340.0 V680.5 H337.0 Z M343.0,670.0 H344.0 V704.0 H343.0 Z M342.0,681.0 H345.0 V694.2 H342.0 Z M354.0,622.6 H355.0 V736.0 H354.0 Z M353.0,623.8 H356.0 V727.8 H353.0 Z M375.0,687.6 H376.0 V733.7 H375.0 Z M374.0,705.0 H377.0 V717.0 H374.0 Z M380.0,711.0 H381.0 V742.0 H380.0 Z M379.0,716.0 H382.0 V739.6 H379.0 Z M385.0,736.0 H386.0 V790.4 H385.0 Z M384.0,737.0 H387.0 V785.7 H384.0 Z M390.0,723.0 H391.0 V795.0 H390.0 Z M389.0,783.0 H392.0 V794.0 H389.0 Z M406.0,750.0 H407.0 V777.4 H406.0 Z M405.0,753.8 H408.0 V768.0 H405.0 Z M427.0,696.0 H428.0 V733.7 H427.0 Z M426.0,718.0 H429.0 V725.4 H426.0 Z M432.0,724.0 H433.0 V756.0 H432.0 Z M431.0,725.4 H434.0 V744.4 H431.0 Z M447.0,719.5 H448.0 V748.0 H447.0 Z M446.0,726.6 H449.0 V745.5 H446.0 Z M479.0,644.0 H480.0 V680.5 H479.0 Z M478.0,668.0 H481.0 V677.0 H478.0 Z M484.0,674.6 H485.0 V723.0 H484.0 Z M483.0,677.0 H486.0 V712.4 H483.0 Z M489.0,705.0 H490.0 V749.0 H489.0 Z M488.0,712.4 H491.0 V738.4 H488.0 Z M494.0,730.0 H495.0 V756.0 H494.0 Z M493.0,738.4 H496.0 V749.0 H493.0 Z M500.0,742.0 H501.0 V769.0 H500.0 Z M499.0,748.0 H502.0 V751.4 H499.0 Z M510.0,722.0 H511.0 V770.0 H510.0 Z M509.0,736.8 H512.0 V766.8 H509.0 Z M531.0,751.4 H532.0 V813.0 H531.0 Z M530.0,752.6 H533.0 V800.0 H530.0 Z M541.0,781.0 H542.0 V835.0 H541.0 Z M540.0,795.0 H543.0 V830.6 H540.0 Z M552.0,762.0 H553.0 V795.0 H552.0 Z M551.0,771.5 H554.0 V787.0 H551.0 Z M567.0,742.0 H568.0 V771.4 H567.0 Z M566.0,743.0 H569.0 V766.7 H566.0 Z M572.0,750.0 H573.0 V771.4 H572.0 Z M571.0,765.5 H574.0 V770.0 H571.0 Z M578.0,763.0 H579.0 V784.4 H578.0 Z M577.0,768.0 H580.0 V784.4 H577.0 Z M588.0,766.7 H589.0 V785.6 H588.0 Z M587.0,775.7 H590.0 V778.5 H587.0 Z M635.0,621.4 H636.0 V671.0 H635.0 Z M634.0,669.8 H637.0 V671.0 H634.0 Z M640.0,668.6 H641.0 V704.0 H640.0 Z M639.0,671.0 H642.0 V703.0 H639.0 Z M650.0,681.6 H651.0 V711.0 H650.0 Z M649.0,688.7 H652.0 V704.0 H649.0 Z M656.0,698.0 H657.0 V731.0 H656.0 Z M655.0,704.0 H658.0 V712.4 H655.0 Z M666.0,692.3 H667.0 V710.0 H666.0 Z M665.0,700.5 H668.0 V702.4 H665.0 Z M671.0,700.5 H672.0 V729.0 H671.0 Z M670.0,701.7 H673.0 V724.0 H670.0 Z M676.0,713.5 H677.0 V739.5 H676.0 Z M675.0,724.0 H678.0 V737.0 H675.0 Z M713.0,527.6 H714.0 V604.8 H713.0 Z M712.0,537.5 H715.0 V590.5 H712.0 Z M718.0,511.0 H719.0 V630.0 H718.0 Z M717.0,590.5 H720.0 V598.0 H717.0 Z M729.0,554.0 H730.0 V608.0 H729.0 Z M728.0,569.5 H731.0 V599.0 H728.0 Z M734.0,591.6 H735.0 V641.0 H734.0 Z M733.0,599.0 H736.0 V641.0 H733.0 Z M739.0,623.6 H740.0 V657.8 H739.0 Z M738.0,640.0 H741.0 V652.0 H738.0 Z M744.0,650.0 H745.0 V678.8 H744.0 Z M743.0,651.0 H746.0 V670.0 H743.0 Z M755.0,627.0 H756.0 V682.0 H755.0 Z M754.0,631.3 H757.0 V668.8 H754.0 Z M775.0,583.9 H776.0 V668.8 H775.0 Z M774.0,607.0 H777.0 V663.0 H774.0 Z M791.0,643.5 H792.0 V668.8 H791.0 Z M790.0,656.3 H793.0 V659.4 H790.0 Z M801.0,648.0 H802.0 V680.0 H801.0 Z M800.0,657.0 H803.0 V662.0 H800.0 Z M807.0,645.7 H808.0 V684.3 H807.0 Z M806.0,661.0 H809.0 V683.0 H806.0 Z M812.0,680.0 H813.0 V738.4 H812.0 Z M811.0,682.0 H814.0 V735.0 H811.0 Z M833.0,703.5 H834.0 V725.5 H833.0 Z M832.0,714.1 H835.0 V721.9 H832.0 Z M838.0,714.0 H839.0 V736.8 H838.0 Z M837.0,721.2 H840.0 V732.6 H837.0 Z M843.0,724.0 H844.0 V773.7 H843.0 Z M842.0,731.8 H845.0 V770.1 H842.0 Z M859.0,735.4 H860.0 V749.6 H859.0 Z M858.0,735.4 H861.0 V746.7 H858.0 Z M874.0,695.0 H875.0 V729.7 H874.0 Z M873.0,706.3 H876.0 V726.9 H873.0 Z M879.0,723.3 H880.0 V763.0 H879.0 Z M878.0,724.8 H881.0 V760.2 H878.0 Z M885.0,759.5 H886.0 V796.4 H885.0 Z M884.0,759.5 H887.0 V764.5 H884.0 Z M890.0,758.0 H891.0 V775.0 H890.0 Z M889.0,763.8 H892.0 V766.6 H889.0 Z M895.0,762.3 H896.0 V778.0 H895.0 Z M894.0,765.8 H897.0 V766.8 H894.0 Z M900.0,754.5 H901.0 V775.8 H900.0 Z M899.0,767.3 H902.0 V775.8 H899.0 Z M905.0,765.2 H906.0 V799.2 H905.0 Z M904.0,775.0 H907.0 V787.2 H904.0 Z M916.0,779.4 H917.0 V795.0 H916.0 Z M915.0,782.9 H918.0 V787.9 H915.0 Z M921.0,776.5 H922.0 V812.0 H921.0 Z M920.0,787.2 H923.0 V802.0 H920.0 Z M926.0,795.7 H927.0 V833.3 H926.0 Z M925.0,801.3 H928.0 V819.8 H925.0 Z M931.0,812.0 H932.0 V858.0 H931.0 Z M930.0,819.0 H933.0 V834.0 H930.0 Z M947.0,779.4 H948.0 V791.4 H947.0 Z M946.0,782.2 H949.0 V787.2 H946.0 Z M952.0,778.0 H953.0 V807.0 H952.0 Z M951.0,786.5 H954.0 V806.3 H951.0 Z M973.0,773.0 H974.0 V801.3 H973.0 Z M972.0,775.1 H975.0 V795.7 H972.0 Z M978.0,791.4 H979.0 V810.6 H978.0 Z M977.0,795.0 H980.0 V806.3 H977.0 Z M994.0,769.0 H995.0 V804.4 H994.0 Z M993.0,773.8 H996.0 V795.8 H993.0 Z M1010.0,770.0 H1011.0 V793.4 H1010.0 Z M1009.0,777.5 H1012.0 V788.5 H1009.0 Z M1030.0,683.4 H1031.0 V718.8 H1030.0 Z M1029.0,707.8 H1032.0 V710.3 H1029.0 Z M1036.0,698.0 H1037.0 V723.7 H1036.0 Z M1035.0,709.0 H1038.0 V715.2 H1035.0 Z M1046.0,670.0 H1047.0 V716.4 H1046.0 Z M1045.0,709.0 H1048.0 V711.5 H1045.0 Z M1082.0,588.1 H1083.0 V627.2 H1082.0 Z M1081.0,608.9 H1084.0 V610.1 H1081.0 Z M1088.0,601.5 H1089.0 V643.1 H1088.0 Z M1087.0,610.0 H1090.0 V611.0 H1087.0 Z M1093.0,610.1 H1094.0 V703.0 H1093.0 Z M1092.0,610.1 H1095.0 V683.4 H1092.0 Z M1098.0,677.3 H1099.0 V723.7 H1098.0 Z M1097.0,683.4 H1100.0 V695.6 H1097.0 Z M1108.0,668.7 H1109.0 V681.0 H1108.0 Z M1107.0,673.6 H1110.0 V679.7 H1107.0 Z M1119.0,660.2 H1120.0 V710.3 H1119.0 Z M1118.0,670.0 H1121.0 V705.4 H1118.0 Z M1124.0,693.2 H1125.0 V728.6 H1124.0 Z M1123.0,705.4 H1126.0 V716.4 H1123.0 Z M1129.0,714.0 H1130.0 V758.0 H1129.0 Z M1128.0,717.6 H1131.0 V722.5 H1128.0 Z M1134.0,716.4 H1135.0 V745.7 H1134.0 Z M1133.0,728.6 H1136.0 V743.3 H1133.0 Z M1140.0,743.3 H1141.0 V781.2 H1140.0 Z M1139.0,748.2 H1142.0 V766.5 H1139.0 Z M1145.0,764.0 H1146.0 V787.3 H1145.0 Z M1144.0,766.5 H1147.0 V777.5 H1144.0 Z M1160.0,742.0 H1161.0 V775.7 H1160.0 Z M1159.0,744.3 H1162.0 V766.0 H1159.0 Z M1186.0,678.4 H1187.0 V709.8 H1186.0 Z M1185.0,690.4 H1188.0 V697.1 H1185.0 Z M1192.0,681.4 H1193.0 V727.0 H1192.0 Z M1191.0,697.1 H1194.0 V725.6 H1191.0 Z M1207.0,669.4 H1208.0 V739.8 H1207.0 Z M1206.0,681.4 H1209.0 V729.3 H1206.0 Z M1212.0,716.6 H1213.0 V745.8 H1212.0 Z M1211.0,727.6 H1214.0 V728.6 H1211.0 Z M1228.0,721.8 H1229.0 V748.8 H1228.0 Z M1227.0,722.6 H1230.0 V737.5 H1227.0 Z M1233.0,732.3 H1234.0 V766.0 H1233.0 Z M1232.0,736.8 H1235.0 V765.2 H1232.0 Z M1244.0,736.8 H1245.0 V756.2 H1244.0 Z M1243.0,742.8 H1246.0 V751.8 H1243.0 Z M1254.0,703.0 H1255.0 V724.8 H1254.0 Z M1253.0,705.3 H1256.0 V712.0 H1253.0 Z M1259.0,700.9 H1260.0 V735.3 H1259.0 Z M1258.0,711.3 H1261.0 V724.8 H1258.0 Z M1265.0,717.3 H1266.0 V775.0 H1265.0 Z M1264.0,724.0 H1267.0 V768.2 H1264.0 Z M1275.0,739.0 H1276.0 V751.8 H1275.0 Z M1274.0,743.5 H1277.0 V746.5 H1274.0 Z M1285.0,735.3 H1286.0 V769.0 H1285.0 Z M1284.0,737.5 H1287.0 V760.7 H1284.0 Z M1296.0,745.0 H1297.0 V762.2 H1296.0 Z M1295.0,754.0 H1298.0 V760.7 H1295.0 Z M1301.0,741.3 H1302.0 V776.5 H1301.0 Z M1300.0,760.0 H1303.0 V764.5 H1300.0 Z M1317.0,745.8 H1318.0 V768.2 H1317.0 Z M1316.0,746.5 H1319.0 V763.7 H1316.0 Z M1327.0,748.0 H1328.0 V761.5 H1327.0 Z M1326.0,751.0 H1329.0 V756.2 H1326.0 Z M1369.0,664.0 H1370.0 V698.7 H1369.0 Z M1368.0,664.7 H1371.0 V692.3 H1368.0 Z M1374.0,686.7 H1375.0 V726.4 H1374.0 Z M1373.0,691.6 H1376.0 V726.4 H1373.0 Z M1389.0,695.2 H1390.0 V710.8 H1389.0 Z M1388.0,700.1 H1391.0 V705.8 H1388.0 Z M1395.0,698.0 H1396.0 V733.5 H1395.0 Z M1394.0,705.1 H1397.0 V732.0 H1394.0 Z M1405.0,721.4 H1406.0 V735.6 H1405.0 Z M1404.0,727.0 H1407.0 V735.6 H1404.0 Z M1410.0,733.5 H1411.0 V778.9 H1410.0 Z M1409.0,734.9 H1412.0 V763.3 H1409.0 Z M1415.0,755.5 H1416.0 V774.0 H1415.0 Z M1414.0,762.6 H1417.0 V764.0 H1414.0 Z M1426.0,761.0 H1427.0 V791.6 H1426.0 Z M1425.0,761.8 H1428.0 V786.0 H1425.0 Z M1436.0,772.5 H1437.0 V781.7 H1436.0 Z M1435.0,773.2 H1438.0 V778.2 H1435.0 Z M1447.0,766.8 H1448.0 V781.7 H1447.0 Z M1446.0,768.2 H1449.0 V770.4 H1446.0 Z M1452.0,769.6 H1453.0 V788.8 H1452.0 Z M1451.0,770.4 H1454.0 V777.4 H1451.0 Z M1467.0,729.2 H1468.0 V752.6 H1467.0 Z M1466.0,745.4 H1469.0 V746.4 H1466.0 Z M1473.0,734.9 H1474.0 V757.6 H1473.0 Z M1472.0,737.0 H1475.0 V752.6 H1472.0 Z M1488.0,727.0 H1489.0 V760.4 H1488.0 Z M1487.0,730.0 H1490.0 V760.4 H1487.0 Z M1499.0,752.6 H1500.0 V780.3 H1499.0 Z M1498.0,754.0 H1501.0 V768.2 H1498.0 Z M1504.0,762.0 H1505.0 V1006.7 H1504.0 Z M1503.0,768.0 H1506.0 V872.5 H1503.0 Z" fill="#e63a4b"/>
<path d="M10.9,191.6 L16.1,200.0 L21.3,210.6 L26.5,221.1 L31.7,230.6 L36.9,237.6 L42.1,240.0 L47.3,237.2 L52.5,235.0 L57.7,234.3 L62.9,233.1 L68.1,239.8 L73.3,247.6 L78.5,255.7 L83.7,261.4 L88.9,264.5 L94.1,269.6 L99.3,275.5 L104.5,279.4 L109.7,279.3 L114.9,281.8 L120.2,276.7 L125.4,276.8 L130.6,285.1 L135.8,292.8 L141.0,297.9 L146.2,305.1 L151.4,312.1 L156.6,319.0 L161.8,325.7 L167.0,334.7 L172.2,343.4 L177.4,355.4 L182.6,364.8 L187.8,372.2 L193.0,378.2 L198.2,388.6 L203.4,404.9 L208.6,415.7 L213.8,429.2 L219.0,441.6 L224.2,456.2 L229.4,468.8 L234.6,477.6 L239.8,486.9 L245.0,494.9 L250.2,502.7 L255.5,505.5 L260.7,510.6 L265.9,513.7 L271.1,518.1 L276.3,523.3 L281.5,529.0 L286.7,535.8 L291.9,541.5 L297.1,546.3 L302.3,552.4 L307.5,556.3 L312.7,560.4 L317.9,570.4 L323.1,578.0 L328.3,583.9 L333.5,589.4 L338.7,596.1 L343.9,603.4 L349.1,604.9 L354.3,614.0 L359.5,621.8 L364.7,628.1 L369.9,633.8 L375.1,639.9 L380.3,647.3 L385.6,657.6 L390.8,667.7 L396.0,674.9 L401.2,680.8 L406.4,687.2 L411.6,690.7 L416.8,693.6 L422.0,695.4 L427.2,697.6 L432.4,701.1 L437.6,702.9 L442.8,704.5 L448.0,707.6 L453.2,709.4 L458.4,710.6 L463.6,709.8 L468.8,707.9 L474.0,705.0 L479.2,702.9 L484.4,703.6 L489.6,706.2 L494.8,709.4 L500.0,712.5 L505.2,714.3 L510.4,718.2 L515.6,721.2 L520.9,723.7 L526.1,725.9 L531.3,731.4 L536.5,736.1 L541.7,743.1 L546.9,745.2 L552.1,748.3 L557.3,749.2 L562.5,748.7 L567.7,750.1 L572.9,751.6 L578.1,754.0 L583.3,755.6 L588.5,757.3 L593.7,757.1 L598.9,756.8 L604.1,756.5 L609.3,755.6 L614.5,751.3 L619.7,747.3 L624.9,742.8 L630.1,737.5 L635.3,732.6 L640.5,730.4 L645.7,727.3 L651.0,725.6 L656.2,724.6 L661.4,722.8 L666.6,721.3 L671.8,721.5 L677.0,722.7 L682.2,723.6 L687.4,724.5 L692.6,725.0 L697.8,720.1 L703.0,713.4 L708.2,700.4 L713.4,692.3 L718.6,685.3 L723.8,676.7 L729.0,671.0 L734.2,668.7 L739.4,667.5 L744.6,667.7 L749.8,665.1 L755.0,665.3 L760.2,664.3 L765.4,662.5 L770.6,658.4 L775.8,658.7 L781.0,658.8 L786.3,658.7 L791.5,658.7 L796.7,658.6 L801.9,658.8 L807.1,660.6 L812.3,666.1 L817.5,671.0 L822.7,675.0 L827.9,677.8 L833.1,681.1 L838.3,684.9 L843.5,691.2 L848.7,695.6 L853.9,698.5 L859.1,702.1 L864.3,703.3 L869.5,703.5 L874.7,705.2 L879.9,709.3 L885.1,713.4 L890.3,717.3 L895.5,721.0 L900.7,725.0 L905.9,729.6 L911.1,733.6 L916.3,737.6 L921.6,742.4 L926.8,748.1 L932.0,754.5 L937.2,756.9 L942.4,758.8 L947.6,760.9 L952.8,764.3 L958.0,766.9 L963.2,768.5 L968.4,769.0 L973.6,771.0 L978.8,773.6 L984.0,773.9 L989.2,773.9 L994.4,775.5 L999.6,776.9 L1004.8,776.9 L1010.0,777.8 L1015.2,777.7 L1020.4,775.7 L1025.6,770.6 L1030.8,766.2 L1036.0,762.4 L1041.2,758.4 L1046.4,755.0 L1051.7,750.0 L1056.9,743.4 L1062.1,736.9 L1067.3,730.3 L1072.5,723.3 L1077.7,714.8 L1082.9,707.0 L1088.1,699.9 L1093.3,698.7 L1098.5,698.5 L1103.7,696.6 L1108.9,695.4 L1114.1,693.5 L1119.3,694.4 L1124.5,696.0 L1129.7,698.0 L1134.9,701.3 L1140.1,706.2 L1145.3,711.4 L1150.5,715.0 L1155.7,717.1 L1160.9,720.8 L1166.1,723.1 L1171.3,723.6 L1176.5,722.7 L1181.7,720.3 L1187.0,718.6 L1192.2,719.1 L1197.4,717.5 L1202.6,714.8 L1207.8,715.9 L1213.0,716.8 L1218.2,717.4 L1223.4,717.8 L1228.6,719.2 L1233.8,722.6 L1239.0,724.1 L1244.2,726.1 L1249.4,724.6 L1254.6,723.7 L1259.8,723.8 L1265.0,727.1 L1270.2,728.3 L1275.4,729.7 L1280.6,730.3 L1285.8,732.6 L1291.0,734.1 L1296.2,736.0 L1301.4,738.1 L1306.6,738.9 L1311.8,739.5 L1317.0,741.3 L1322.3,741.9 L1327.5,743.0 L1332.7,743.3 L1337.9,742.2 L1343.1,740.9 L1348.3,739.4 L1353.5,737.3 L1358.7,733.2 L1363.9,728.1 L1369.1,725.4 L1374.3,725.5 L1379.5,724.8 L1384.7,722.9 L1389.9,721.6 L1395.1,722.4 L1400.3,722.6 L1405.5,723.6 L1410.7,726.5 L1415.9,729.3 L1421.1,731.8 L1426.3,735.8 L1431.5,738.6 L1436.7,741.5 L1441.9,743.5 L1447.1,745.5 L1452.4,747.8 L1457.6,748.1 L1462.8,747.5 L1468.0,747.4 L1473.2,747.8 L1478.4,747.9 L1483.6,746.6 L1488.8,747.6 L1494.0,748.1 L1499.2,749.6 L1504.4,758.7 L1509.6,766.3 L1514.8,773.2" stroke="#4f8f55" stroke-width="1" fill="none"/>
<path d="M10.9,378.4 L16.1,377.7 L21.3,377.3 L26.5,377.1 L31.7,376.8 L36.9,376.3 L42.1,375.2 L47.3,373.5 L52.5,371.9 L57.7,370.4 L62.9,368.9 L68.1,368.4 L73.3,368.2 L78.5,368.1 L83.7,367.7 L88.9,367.1 L94.1,366.8 L99.3,366.6 L104.5,366.2 L109.7,365.3 L114.9,364.8 L120.2,363.3 L125.4,362.4 L130.6,362.7 L135.8,363.0 L141.0,363.0 L146.2,363.3 L151.4,363.6 L156.6,364.0 L161.8,364.5 L167.0,365.3 L172.2,366.2 L177.4,367.6 L182.6,368.7 L187.8,369.7 L193.0,370.5 L198.2,372.0 L203.4,374.3 L208.6,376.1 L213.8,378.3 L219.0,380.5 L224.2,383.0 L229.4,385.5 L234.6,387.5 L239.8,389.6 L245.0,391.7 L250.2,393.7 L255.5,395.2 L260.7,397.0 L265.9,398.5 L271.1,400.3 L276.3,402.1 L281.5,404.1 L286.7,406.3 L291.9,408.3 L297.1,410.3 L302.3,412.5 L307.5,414.4 L312.7,416.3 L317.9,419.1 L323.1,421.6 L328.3,424.0 L333.5,426.3 L338.7,428.8 L343.9,431.5 L349.1,433.4 L354.3,436.3 L359.5,439.1 L364.7,441.8 L369.9,444.4 L375.1,447.1 L380.3,450.0 L385.6,453.4 L390.8,456.8 L396.0,459.8 L401.2,462.8 L406.4,465.8 L411.6,468.5 L416.8,471.1 L422.0,473.5 L427.2,476.0 L432.4,478.7 L437.6,481.2 L442.8,483.6 L448.0,486.2 L453.2,488.6 L458.4,491.0 L463.6,493.1 L468.8,495.0 L474.0,496.7 L479.2,498.5 L484.4,500.6 L489.6,503.0 L494.8,505.4 L500.0,507.9 L505.2,510.2 L510.4,512.7 L515.6,515.2 L520.9,517.6 L526.1,519.9 L531.3,522.7 L536.5,525.4 L541.7,528.4 L546.9,530.9 L552.1,533.4 L557.3,535.7 L562.5,537.7 L567.7,540.0 L572.9,542.3 L578.1,544.7 L583.3,547.0 L588.5,549.3 L593.7,551.4 L598.9,553.4 L604.1,555.3 L609.3,557.2 L614.5,558.6 L619.7,560.0 L624.9,561.3 L630.1,562.4 L635.3,563.4 L640.5,564.8 L645.7,566.1 L651.0,567.4 L656.2,568.9 L661.4,570.2 L666.6,571.5 L671.8,573.0 L677.0,574.6 L682.2,576.3 L687.4,577.8 L692.6,579.4 L697.8,580.2 L703.0,580.6 L708.2,580.2 L713.4,580.3 L718.6,580.5 L723.8,580.4 L729.0,580.6 L734.2,581.2 L739.4,581.9 L744.6,582.8 L749.8,583.3 L755.0,584.1 L760.2,584.8 L765.4,585.3 L770.6,585.5 L775.8,586.3 L781.0,587.0 L786.3,587.7 L791.5,588.4 L796.7,589.1 L801.9,589.9 L807.1,590.8 L812.3,592.2 L817.5,593.6 L822.7,594.9 L827.9,596.1 L833.1,597.3 L838.3,598.7 L843.5,600.4 L848.7,601.9 L853.9,603.2 L859.1,604.6 L864.3,605.8 L869.5,606.8 L874.7,608.0 L879.9,609.5 L885.1,611.0 L890.3,612.6 L895.5,614.1 L900.7,615.7 L905.9,617.4 L911.1,619.1 L916.3,620.7 L921.6,622.5 L926.8,624.5 L932.0,626.6 L937.2,628.2 L942.4,629.7 L947.6,631.3 L952.8,633.0 L958.0,634.7 L963.2,636.2 L968.4,637.6 L973.6,639.2 L978.8,640.8 L984.0,642.2 L989.2,643.5 L994.4,645.0 L999.6,646.5 L1004.8,647.8 L1010.0,649.2 L1015.2,650.5 L1020.4,651.5 L1025.6,652.0 L1030.8,652.6 L1036.0,653.2 L1041.2,653.8 L1046.4,654.4 L1051.7,654.7 L1056.9,654.8 L1062.1,654.8 L1067.3,654.7 L1072.5,654.5 L1077.7,654.1 L1082.9,653.6 L1088.1,653.2 L1093.3,653.5 L1098.5,653.9 L1103.7,654.1 L1108.9,654.4 L1114.1,654.5 L1119.3,655.0 L1124.5,655.6 L1129.7,656.3 L1134.9,657.2 L1140.1,658.3 L1145.3,659.4 L1150.5,660.4 L1155.7,661.3 L1160.9,662.3 L1166.1,663.2 L1171.3,663.9 L1176.5,664.3 L1181.7,664.6 L1187.0,664.9 L1192.2,665.5 L1197.4,665.8 L1202.6,666.0 L1207.8,666.6 L1213.0,667.2 L1218.2,667.8 L1223.4,668.4 L1228.6,669.0 L1233.8,670.0 L1239.0,670.7 L1244.2,671.5 L1249.4,671.9 L1254.6,672.3 L1259.8,672.8 L1265.0,673.7 L1270.2,674.4 L1275.4,675.2 L1280.6,675.8 L1285.8,676.6 L1291.0,677.4 L1296.2,678.2 L1301.4,679.1 L1306.6,679.8 L1311.8,680.4 L1317.0,681.3 L1322.3,681.9 L1327.5,682.7 L1332.7,683.3 L1337.9,683.8 L1343.1,684.2 L1348.3,684.5 L1353.5,684.8 L1358.7,684.8 L1363.9,684.6 L1369.1,684.6 L1374.3,685.1 L1379.5,685.4 L1384.7,685.5 L1389.9,685.7 L1395.1,686.2 L1400.3,686.6 L1405.5,687.1 L1410.7,687.8 L1415.9,688.6 L1421.1,689.3 L1426.3,690.3 L1431.5,691.1 L1436.7,692.0 L1441.9,692.7 L1447.1,693.5 L1452.4,694.3 L1457.6,694.9 L1462.8,695.3 L1468.0,695.9 L1473.2,696.4 L1478.4,696.9 L1483.6,697.3 L1488.8,697.9 L1494.0,698.5 L1499.2,699.2 L1504.4,700.9 L1509.6,702.5 L1514.8,704.0" stroke="#000000" stroke-width="3" fill="none" stroke-linejoin="round"/>
<path d="M10.9,135.4 L16.1,134.1 L21.3,133.6 L26.5,138.6 L31.7,143.6 L36.9,147.6 L42.1,149.3 L47.3,150.6 L52.5,151.5 L57.7,152.5 L62.9,153.7 L68.1,156.2 L73.3,158.6 L78.5,161.1 L83.7,164.1 L88.9,167.9 L94.1,171.8 L99.3,175.6 L104.5,178.2 L109.7,180.8 L114.9,183.2 L120.2,184.9 L125.4,187.5 L130.6,192.7 L135.8,201.3 L141.0,210.4 L146.2,219.6 L151.4,229.4 L156.6,239.1 L161.8,249.9 L167.0,262.1 L172.2,273.1 L177.4,282.2 L182.6,291.3 L187.8,300.3 L193.0,309.4 L198.2,318.5 L203.4,328.8 L208.6,339.2 L213.8,349.1 L219.0,356.9 L224.2,363.3 L229.4,369.4 L234.6,375.4 L239.8,381.5 L245.0,387.6 L250.2,393.7 L255.5,399.8 L260.7,405.9 L265.9,411.7 L271.1,417.4 L276.3,423.2 L281.5,428.6 L286.7,434.1 L291.9,439.4 L297.1,444.9 L302.3,451.6 L307.5,459.7 L312.7,467.8 L317.9,477.2 L323.1,486.3 L328.3,493.0 L333.5,499.2 L338.7,505.7 L343.9,512.9 L349.1,519.3 L354.3,527.2 L359.5,534.6 L364.7,542.2 L369.9,550.7 L375.1,558.8 L380.3,569.3 L385.6,579.5 L390.8,587.6 L396.0,595.1 L401.2,603.0 L406.4,610.4 L411.6,617.1 L416.8,623.6 L422.0,629.8 L427.2,635.3 L432.4,641.2 L437.6,645.6 L442.8,650.4 L448.0,656.1 L453.2,661.6 L458.4,665.8 L463.6,667.6 L468.8,670.3 L474.0,671.7 L479.2,673.3 L484.4,674.8 L489.6,677.0 L494.8,680.2 L500.0,683.2 L505.2,686.1 L510.4,689.4 L515.6,693.7 L520.9,697.3 L526.1,701.4 L531.3,705.9 L536.5,710.0 L541.7,714.7 L546.9,717.7 L552.1,721.1 L557.3,724.2 L562.5,726.5 L567.7,729.8 L572.9,732.9 L578.1,734.7 L583.3,736.8 L588.5,739.2 L593.7,741.1 L598.9,742.6 L604.1,743.7 L609.3,746.1 L614.5,745.5 L619.7,745.1 L624.9,744.7 L630.1,744.0 L635.3,743.1 L640.5,742.4 L645.7,740.4 L651.0,738.6 L656.2,737.6 L661.4,736.5 L666.6,735.2 L671.8,735.0 L677.0,735.1 L682.2,735.5 L687.4,735.7 L692.6,735.4 L697.8,734.1 L703.0,732.2 L708.2,728.0 L713.4,725.2 L718.6,722.7 L723.8,720.1 L729.0,718.3 L734.2,717.8 L739.4,717.3 L744.6,716.4 L749.8,714.3 L755.0,712.7 L760.2,710.7 L765.4,708.8 L770.6,705.6 L775.8,703.7 L781.0,701.8 L786.3,699.8 L791.5,697.0 L796.7,694.3 L801.9,690.9 L807.1,689.1 L812.3,688.1 L817.5,687.5 L822.7,687.1 L827.9,686.1 L833.1,685.1 L838.3,684.1 L843.5,684.0 L848.7,683.4 L853.9,683.0 L859.1,682.9 L864.3,682.2 L869.5,681.4 L874.7,682.0 L879.9,683.3 L885.1,684.8 L890.3,686.7 L895.5,688.6 L900.7,690.1 L905.9,692.1 L911.1,693.6 L916.3,695.1 L921.6,697.2 L926.8,699.5 L932.0,701.7 L937.2,702.7 L942.4,703.7 L947.6,704.7 L952.8,706.2 L958.0,709.0 L963.2,712.2 L968.4,717.0 L973.6,721.1 L978.8,725.2 L984.0,729.4 L989.2,732.9 L994.4,736.0 L999.6,738.8 L1004.8,741.0 L1010.0,744.1 L1015.2,746.2 L1020.4,748.2 L1025.6,749.6 L1030.8,751.6 L1036.0,752.7 L1041.2,753.7 L1046.4,754.8 L1051.7,755.3 L1056.9,755.4 L1062.1,755.3 L1067.3,754.6 L1072.5,752.6 L1077.7,750.1 L1082.9,747.8 L1088.1,745.8 L1093.3,745.0 L1098.5,744.3 L1103.7,742.4 L1108.9,740.9 L1114.1,739.6 L1119.3,738.8 L1124.5,738.8 L1129.7,739.1 L1134.9,739.4 L1140.1,739.6 L1145.3,739.8 L1150.5,739.7 L1155.7,739.2 L1160.9,739.0 L1166.1,738.3 L1171.3,737.3 L1176.5,735.7 L1181.7,733.5 L1187.0,731.0 L1192.2,728.9 L1197.4,727.1 L1202.6,725.1 L1207.8,723.9 L1213.0,722.4 L1218.2,720.8 L1223.4,719.5 L1228.6,718.8 L1233.8,718.2 L1239.0,716.9 L1244.2,716.3 L1249.4,715.0 L1254.6,713.3 L1259.8,711.9 L1265.0,711.8 L1270.2,710.9 L1275.4,710.3 L1280.6,710.0 L1285.8,711.1 L1291.0,711.9 L1296.2,712.8 L1301.4,713.9 L1306.6,714.7 L1311.8,715.9 L1317.0,717.9 L1322.3,719.8 L1327.5,722.0 L1332.7,724.2 L1337.9,726.6 L1343.1,728.9 L1348.3,731.1 L1353.5,731.7 L1358.7,731.4 L1363.9,731.2 L1369.1,731.4 L1374.3,732.6 L1379.5,732.8 L1384.7,732.4 L1389.9,732.1 L1395.1,731.9 L1400.3,731.1 L1405.5,730.2 L1410.7,730.3 L1415.9,730.7 L1421.1,730.6 L1426.3,731.3 L1431.5,732.2 L1436.7,733.5 L1441.9,735.1 L1447.1,736.5 L1452.4,737.6 L1457.6,738.6 L1462.8,739.8 L1468.0,740.2 L1473.2,740.6 L1478.4,741.1 L1483.6,741.3 L1488.8,741.7 L1494.0,741.5 L1499.2,742.0 L1504.4,744.5 L1509.6,747.6 L1514.8,750.5" stroke="#5e93e0" stroke-width="3" fill="none" stroke-linejoin="round"/>
<path d="M10.9,289.0 L16.1,289.3 L21.3,290.4 L26.5,291.6 L31.7,292.7 L36.9,293.4 L42.1,292.9 L47.3,291.1 L52.5,289.5 L57.7,288.2 L62.9,286.8 L68.1,287.5 L73.3,288.7 L78.5,290.0 L83.7,290.9 L88.9,291.1 L94.1,292.0 L99.3,293.1 L104.5,293.8 L109.7,293.5 L114.9,293.9 L120.2,292.3 L125.4,292.0 L130.6,293.9 L135.8,295.8 L141.0,297.1 L146.2,299.0 L151.4,301.0 L156.6,303.1 L161.8,305.2 L167.0,308.0 L172.2,310.9 L177.4,314.7 L182.6,318.0 L187.8,320.9 L193.0,323.6 L198.2,327.4 L203.4,333.0 L208.6,337.3 L213.8,342.5 L219.0,347.5 L224.2,353.2 L229.4,358.7 L234.6,363.2 L239.8,367.9 L245.0,372.4 L250.2,377.0 L255.5,380.2 L260.7,384.0 L265.9,387.4 L271.1,391.1 L276.3,395.0 L281.5,399.0 L286.7,403.4 L291.9,407.6 L297.1,411.5 L302.3,415.8 L307.5,419.5 L312.7,423.3 L317.9,428.7 L323.1,433.6 L328.3,438.0 L333.5,442.4 L338.7,447.1 L343.9,452.0 L349.1,455.4 L354.3,460.8 L359.5,465.9 L364.7,470.7 L369.9,475.3 L375.1,480.1 L380.3,485.2 L385.6,491.2 L390.8,497.2 L396.0,502.5 L401.2,507.5 L406.4,512.6 L411.6,517.0 L416.8,521.2 L422.0,525.1 L427.2,529.1 L432.4,533.3 L437.6,537.1 L442.8,540.9 L448.0,544.9 L453.2,548.6 L458.4,552.1 L463.6,555.0 L468.8,557.6 L474.0,559.8 L479.2,562.1 L484.4,565.1 L489.6,568.5 L494.8,572.1 L500.0,575.7 L505.2,578.9 L510.4,582.6 L515.6,586.1 L520.9,589.4 L526.1,592.6 L531.3,596.8 L536.5,600.7 L541.7,605.2 L546.9,608.5 L552.1,612.1 L557.3,615.0 L562.5,617.5 L567.7,620.5 L572.9,623.5 L578.1,626.6 L583.3,629.6 L588.5,632.5 L593.7,635.0 L598.9,637.3 L604.1,639.6 L609.3,641.7 L614.5,642.8 L619.7,643.8 L624.9,644.7 L630.1,645.2 L635.3,645.7 L640.5,646.9 L645.7,647.7 L651.0,648.8 L656.2,650.1 L661.4,651.1 L666.6,652.1 L671.8,653.5 L677.0,655.2 L682.2,656.8 L687.4,658.3 L692.6,659.8 L697.8,659.7 L703.0,659.2 L708.2,656.7 L713.4,655.4 L718.6,654.3 L723.8,652.6 L729.0,651.6 L734.2,651.3 L739.4,651.4 L744.6,651.7 L749.8,651.3 L755.0,651.7 L760.2,651.7 L765.4,651.4 L770.6,650.6 L775.8,650.8 L781.0,651.0 L786.3,651.1 L791.5,651.3 L796.7,651.4 L801.9,651.6 L807.1,652.2 L812.3,653.9 L817.5,655.4 L822.7,656.8 L827.9,657.9 L833.1,659.2 L838.3,660.6 L843.5,662.8 L848.7,664.5 L853.9,665.9 L859.1,667.5 L864.3,668.5 L869.5,669.3 L874.7,670.4 L879.9,672.2 L885.1,674.0 L890.3,675.8 L895.5,677.6 L900.7,679.6 L905.9,681.7 L911.1,683.7 L916.3,685.8 L921.6,688.1 L926.8,690.7 L932.0,693.5 L937.2,695.4 L942.4,697.1 L947.6,698.9 L952.8,701.0 L958.0,703.0 L963.2,704.7 L968.4,706.1 L973.6,707.8 L978.8,709.8 L984.0,711.1 L989.2,712.4 L994.4,714.0 L999.6,715.6 L1004.8,716.8 L1010.0,718.3 L1015.2,719.4 L1020.4,720.0 L1025.6,719.8 L1030.8,719.6 L1036.0,719.5 L1041.2,719.3 L1046.4,719.1 L1051.7,718.5 L1056.9,717.4 L1062.1,716.2 L1067.3,714.8 L1072.5,713.2 L1077.7,711.2 L1082.9,709.2 L1088.1,707.2 L1093.3,706.8 L1098.5,706.5 L1103.7,705.9 L1108.9,705.4 L1114.1,704.7 L1119.3,704.7 L1124.5,704.9 L1129.7,705.3 L1134.9,706.0 L1140.1,707.2 L1145.3,708.6 L1150.5,709.6 L1155.7,710.3 L1160.9,711.4 L1166.1,712.2 L1171.3,712.5 L1176.5,712.5 L1181.7,712.1 L1187.0,711.8 L1192.2,712.1 L1197.4,711.8 L1202.6,711.2 L1207.8,711.5 L1213.0,711.9 L1218.2,712.1 L1223.4,712.3 L1228.6,712.8 L1233.8,713.9 L1239.0,714.4 L1244.2,715.2 L1249.4,715.0 L1254.6,714.9 L1259.8,715.1 L1265.0,716.2 L1270.2,716.7 L1275.4,717.3 L1280.6,717.7 L1285.8,718.6 L1291.0,719.2 L1296.2,720.1 L1301.4,720.9 L1306.6,721.5 L1311.8,722.0 L1317.0,722.8 L1322.3,723.4 L1327.5,724.0 L1332.7,724.5 L1337.9,724.5 L1343.1,724.5 L1348.3,724.5 L1353.5,724.2 L1358.7,723.4 L1363.9,722.2 L1369.1,721.6 L1374.3,721.7 L1379.5,721.6 L1384.7,721.1 L1389.9,720.8 L1395.1,721.1 L1400.3,721.2 L1405.5,721.4 L1410.7,722.3 L1415.9,723.1 L1421.1,723.9 L1426.3,725.1 L1431.5,726.1 L1436.7,727.1 L1441.9,727.9 L1447.1,728.7 L1452.4,729.7 L1457.6,730.1 L1462.8,730.3 L1468.0,730.7 L1473.2,731.1 L1478.4,731.4 L1483.6,731.4 L1488.8,732.0 L1494.0,732.4 L1499.2,733.1 L1504.4,735.9 L1509.6,738.4 L1514.8,740.8" stroke="#f39c1a" stroke-width="4" fill="none" stroke-linejoin="round"/>
<path d="M696.6,526.1 L1597.8,708.7 M692,879.3 L1597.8,715.8" stroke="#3a5fd6" stroke-width="2" fill="none"/>
<path d="M999,787.9 H1655" stroke="#34509a" stroke-width="2" fill="none"/>
<path d="M10,859.5 H1858" stroke="#3a7f77" stroke-width="1" stroke-dasharray="1,2" fill="none"/>
</g>
<text x="1926.9" y="1091.9" font-size="12" fill="#131722" textLength="60.9" lengthAdjust="spacingAndGlyphs">0.00000500</text><text x="1926.9" y="1046.3" font-size="12" fill="#131722" textLength="60.9" lengthAdjust="spacingAndGlyphs">0.00000600</text><text x="1926.9" y="1000.8" font-size="12" fill="#131722" textLength="60.9" lengthAdjust="spacingAndGlyphs">0.00000700</text><text x="1926.9" y="955.2" font-size="12" fill="#131722" textLength="60.9" lengthAdjust="spacingAndGlyphs">0.00000800</text><text x="1926.9" y="909.6" font-size="12" fill="#131722" textLength="60.9" lengthAdjust="spacingAndGlyphs">0.00000900</text><text x="1926.9" y="864.1" font-size="12" fill="#131722" textLength="60.9" lengthAdjust="spacingAndGlyphs">0.00001000</text><text x="1926.9" y="818.5" font-size="12" fill="#131722" textLength="60.9" lengthAdjust="spacingAndGlyphs">0.00001100</text><text x="1926.9" y="772.9" font-size="12" fill="#131722" textLength="60.9" lengthAdjust="spacingAndGlyphs">0.00001200</text><text x="1926.9" y="727.4" font-size="12" fill="#131722" textLength="60.9" lengthAdjust="spacingAndGlyphs">0.00001300</text><text x="1926.9" y="681.8" font-size="12" fill="#131722" textLength="60.9" lengthAdjust="spacingAndGlyphs">0.00001400</text><text x="1926.9" y="636.2" font-size="12" fill="#131722" textLength="60.9" lengthAdjust="spacingAndGlyphs">0.00001500</text><text x="1926.9" y="590.7" font-size="12" fill="#131722" textLength="60.9" lengthAdjust="spacingAndGlyphs">0.00001600</text><text x="1926.9" y="545.1" font-size="12" fill="#131722" textLength="60.9" lengthAdjust="spacingAndGlyphs">0.00001700</text><text x="1926.9" y="499.5" font-size="12" fill="#131722" textLength="60.9" lengthAdjust="spacingAndGlyphs">0.00001800</text><text x="1926.9" y="454.0" font-size="12" fill="#131722" textLength="60.9" lengthAdjust="spacingAndGlyphs">0.00001900</text><text x="1926.9" y="408.4" font-size="12" fill="#131722" textLength="60.9" lengthAdjust="spacingAndGlyphs">0.00002000</text><text x="1926.9" y="362.9" font-size="12" fill="#131722" textLength="60.9" lengthAdjust="spacingAndGlyphs">0.00002100</text><text x="1926.9" y="317.3" font-size="12" fill="#131722" textLength="60.9" lengthAdjust="spacingAndGlyphs">0.00002200</text><text x="1926.9" y="271.7" font-size="12" fill="#131722" textLength="60.9" lengthAdjust="spacingAndGlyphs">0.00002300</text><text x="1926.9" y="226.2" font-size="12" fill="#131722" textLength="60.9" lengthAdjust="spacingAndGlyphs">0.00002400</text><text x="1926.9" y="180.6" font-size="12" fill="#131722" textLength="60.9" lengthAdjust="spacingAndGlyphs">0.00002500</text><text x="1926.9" y="135.0" font-size="12" fill="#131722" textLength="60.9" lengthAdjust="spacingAndGlyphs">0.00002600</text><text x="1926.9" y="89.5" font-size="12" fill="#131722" textLength="60.9" lengthAdjust="spacingAndGlyphs">0.00002700</text><text x="1926.9" y="43.9" font-size="12" fill="#131722" textLength="60.9" lengthAdjust="spacingAndGlyphs">0.00002800</text>
<text x="1927.4" y="1112.5" font-size="12" fill="#131722" textLength="28.8" lengthAdjust="spacingAndGlyphs">75.00</text>
<text x="1927.4" y="1146.7" font-size="12" fill="#131722" textLength="28.8" lengthAdjust="spacingAndGlyphs">50.00</text>
<text x="1927.4" y="1180.9" font-size="12" fill="#131722" textLength="28.8" lengthAdjust="spacingAndGlyphs">25.00</text>
<rect x="1919" y="696" width="75" height="17" rx="2" fill="#000000"/><text x="1926.9" y="708.9" font-size="12" fill="#ffffff" font-weight="bold" textLength="60.7" lengthAdjust="spacingAndGlyphs">0.00001342</text>
<rect x="1919" y="725.5" width="75" height="16.5" rx="2" fill="#f7a01f"/><text x="1926.9" y="738.1" font-size="12" fill="#2b1000" textLength="60.7" lengthAdjust="spacingAndGlyphs">0.00001262</text>
<rect x="1919" y="742" width="75" height="16.5" rx="2" fill="#5b9cf6"/><text x="1926.9" y="754.6" font-size="12" fill="#0b1d4f" textLength="60.7" lengthAdjust="spacingAndGlyphs">0.00001241</text>
<rect x="1919" y="765.3" width="75" height="16.5" rx="2" fill="#168a16"/><text x="1926.9" y="777.9" font-size="12" fill="#c8ffc8" font-weight="bold" textLength="60.7" lengthAdjust="spacingAndGlyphs">0.00001191</text>
<rect x="1858" y="851" width="60" height="16.5" rx="1.5" fill="#1a9882"/><text x="1862.5" y="863.7" font-size="12" fill="#ffffff" font-weight="bold" textLength="50.3" lengthAdjust="spacingAndGlyphs">SHIBUSDT</text>
<rect x="1919" y="851" width="75" height="30.5" rx="1.5" fill="#1a9882"/><text x="1926.7" y="863.7" font-size="12" fill="#ffffff" font-weight="bold" textLength="60.6" lengthAdjust="spacingAndGlyphs">0.00001002</text><text x="1927.5" y="877.6" font-size="12" fill="#e8fff8" font-weight="bold" textLength="45.9" lengthAdjust="spacingAndGlyphs">14:13:38</text>
<rect x="1919" y="1074.2" width="57.5" height="16.5" rx="2" fill="#1a9882"/><text x="1926.9" y="1086.9" font-size="12" fill="#ffffff" font-weight="bold" textLength="44.8" lengthAdjust="spacingAndGlyphs">812.83 B</text>
<rect x="1919" y="1142.3" width="42.7" height="16.1" rx="2" fill="#fbe43a"/><text x="1927.4" y="1154.8" font-size="12" fill="#131722" textLength="28.8" lengthAdjust="spacingAndGlyphs">43.83</text>
<rect x="1919" y="1160.5" width="42.7" height="16.4" rx="2" fill="#7e57c2"/><text x="1927.4" y="1173.1" font-size="12" fill="#ffffff" textLength="28.8" lengthAdjust="spacingAndGlyphs">30.70</text>
<text x="36.9" y="1198.9" font-size="12" fill="#131722" text-anchor="middle" font-weight="bold" textLength="27.8" lengthAdjust="spacingAndGlyphs">2025</text>
<text x="198.2" y="1198.9" font-size="12" fill="#131722" text-anchor="middle" textLength="19.5" lengthAdjust="spacingAndGlyphs">Feb</text>
<text x="343.9" y="1198.9" font-size="12" fill="#131722" text-anchor="middle" textLength="20.1" lengthAdjust="spacingAndGlyphs">Mar</text>
<text x="505.2" y="1198.9" font-size="12" fill="#131722" text-anchor="middle" textLength="19.1" lengthAdjust="spacingAndGlyphs">Apr</text>
<text x="661.4" y="1198.9" font-size="12" fill="#131722" text-anchor="middle" textLength="21.5" lengthAdjust="spacingAndGlyphs">May</text>
<text x="822.7" y="1198.9" font-size="12" fill="#131722" text-anchor="middle" textLength="18.2" lengthAdjust="spacingAndGlyphs">Jun</text>
<text x="978.8" y="1198.9" font-size="12" fill="#131722" text-anchor="middle" textLength="15.7" lengthAdjust="spacingAndGlyphs">Jul</text>
<text x="1140.1" y="1198.9" font-size="12" fill="#131722" text-anchor="middle" textLength="19.7" lengthAdjust="spacingAndGlyphs">Aug</text>
<text x="1301.4" y="1198.9" font-size="12" fill="#131722" text-anchor="middle" textLength="18.9" lengthAdjust="spacingAndGlyphs">Sep</text>
<text x="1457.6" y="1198.9" font-size="12" fill="#131722" text-anchor="middle" textLength="18.6" lengthAdjust="spacingAndGlyphs">Oct</text>
<text x="1618.9" y="1198.9" font-size="12" fill="#131722" text-anchor="middle" textLength="19.5" lengthAdjust="spacingAndGlyphs">Nov</text>
<text x="1775.0" y="1198.9" font-size="12" fill="#131722" text-anchor="middle" textLength="18.9" lengthAdjust="spacingAndGlyphs">Dec</text>
<text x="18.1" y="45.9" font-size="12" fill="#131722" textLength="163.7" lengthAdjust="spacingAndGlyphs">SHIB / TetherUS · 1D · Binance</text>
<text x="190.1" y="45.9" font-size="12" fill="#131722" textLength="6.8" lengthAdjust="spacingAndGlyphs">O</text>
<text x="197.4" y="45.9" font-size="12" fill="#089981" textLength="60.9" lengthAdjust="spacingAndGlyphs">0.00000996</text>
<text x="266.3" y="45.9" font-size="12" fill="#131722" textLength="6.6" lengthAdjust="spacingAndGlyphs">H</text>
<text x="273.5" y="45.9" font-size="12" fill="#089981" textLength="60.9" lengthAdjust="spacingAndGlyphs">0.00001012</text>
<text x="342.4" y="45.9" font-size="12" fill="#131722" textLength="5.4" lengthAdjust="spacingAndGlyphs">L</text>
<text x="348.6" y="45.9" font-size="12" fill="#089981" textLength="60.5" lengthAdjust="spacingAndGlyphs">0.00000978</text>
<text x="416.4" y="45.9" font-size="12" fill="#131722" textLength="6.4" lengthAdjust="spacingAndGlyphs">C</text>
<text x="423.4" y="45.9" font-size="12" fill="#089981" textLength="60.8" lengthAdjust="spacingAndGlyphs">0.00001002</text>
<text x="492.5" y="45.9" font-size="12" fill="#089981" textLength="115.8" lengthAdjust="spacingAndGlyphs">+0.00000007 (+0.70%)</text>
<g fill="#131722"><path d="M11.9,1230.8 H23.8 V1246.2 H17.9 V1236.7 H11.9 Z"/><circle cx="29.1" cy="1233.8" r="2.9"/><path d="M33.8,1230.8 H41.7 L37.2,1246.2 H29.3 Z"/></g>
<text x="49.2" y="1246.2" font-size="21.4" fill="#131722" font-weight="bold" textLength="120.6" lengthAdjust="spacingAndGlyphs">TradingView</text>
</svg></body></html>
